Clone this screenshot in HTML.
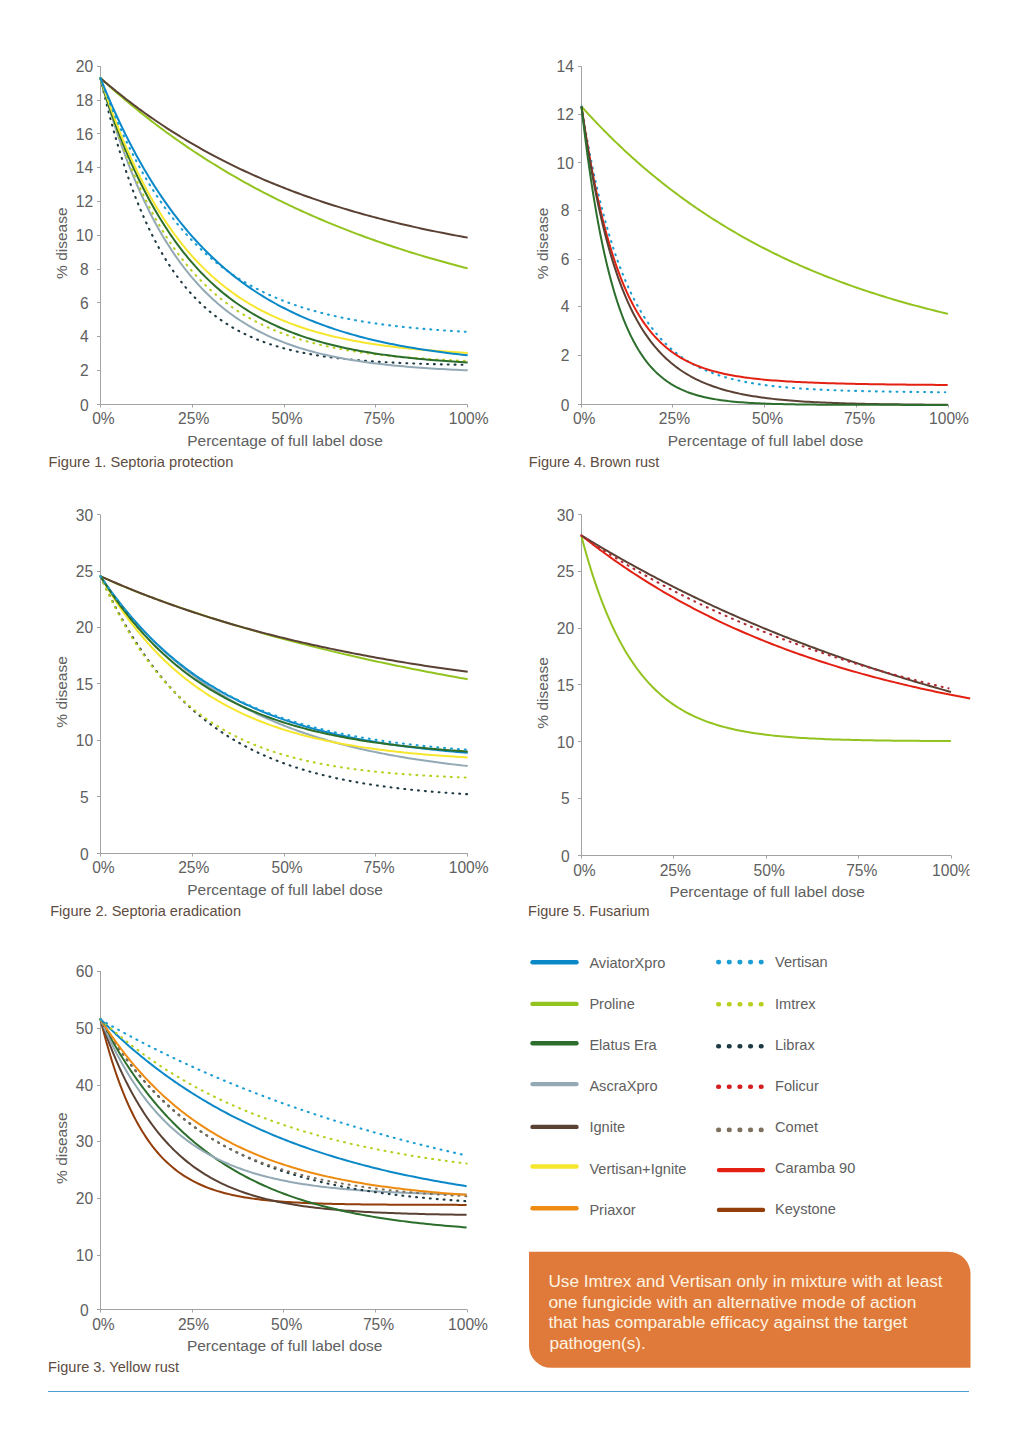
<!DOCTYPE html>
<html><head><meta charset="utf-8"><style>
html,body{margin:0;padding:0;background:#fff;}
body{width:1019px;height:1440px;overflow:hidden;}
svg{display:block;}
text{font-family:"Liberation Sans", sans-serif;}
.tk{font-size:15.6px;fill:#606060;}
.at{font-size:15.5px;fill:#606060;}
.cap{font-size:14.8px;fill:#5e4c3f;}
.lg{font-size:14.6px;fill:#606060;}
.bx{font-size:17.2px;fill:#fff4e2;}
</style></head><body>
<svg width="1019" height="1440" viewBox="0 0 1019 1440">
<rect width="1019" height="1440" fill="#fff"/>
<path d="M100.50 66.20V404.50H467.70" fill="none" stroke="#a2a2a2" stroke-width="1"/>
<path d="M97.00 404.50H100.50" stroke="#a2a2a2" stroke-width="1"/>
<text x="84.40" y="411.00" text-anchor="middle" class="tk">0</text>
<path d="M97.00 370.50H100.50" stroke="#a2a2a2" stroke-width="1"/>
<text x="84.40" y="376.20" text-anchor="middle" class="tk">2</text>
<path d="M97.00 336.50H100.50" stroke="#a2a2a2" stroke-width="1"/>
<text x="84.40" y="342.40" text-anchor="middle" class="tk">4</text>
<path d="M97.00 302.50H100.50" stroke="#a2a2a2" stroke-width="1"/>
<text x="84.40" y="308.60" text-anchor="middle" class="tk">6</text>
<path d="M97.00 269.50H100.50" stroke="#a2a2a2" stroke-width="1"/>
<text x="84.40" y="274.80" text-anchor="middle" class="tk">8</text>
<path d="M97.00 235.50H100.50" stroke="#a2a2a2" stroke-width="1"/>
<text x="84.40" y="241.00" text-anchor="middle" class="tk">10</text>
<path d="M97.00 201.50H100.50" stroke="#a2a2a2" stroke-width="1"/>
<text x="84.40" y="207.20" text-anchor="middle" class="tk">12</text>
<path d="M97.00 167.50H100.50" stroke="#a2a2a2" stroke-width="1"/>
<text x="84.40" y="173.40" text-anchor="middle" class="tk">14</text>
<path d="M97.00 133.50H100.50" stroke="#a2a2a2" stroke-width="1"/>
<text x="84.40" y="139.60" text-anchor="middle" class="tk">16</text>
<path d="M97.00 100.50H100.50" stroke="#a2a2a2" stroke-width="1"/>
<text x="84.40" y="105.80" text-anchor="middle" class="tk">18</text>
<path d="M97.00 66.50H100.50" stroke="#a2a2a2" stroke-width="1"/>
<text x="84.40" y="72.00" text-anchor="middle" class="tk">20</text>
<path d="M100.50 404.50V407.50" stroke="#a2a2a2" stroke-width="1"/>
<text x="103.40" y="424.00" text-anchor="middle" class="tk">0%</text>
<path d="M192.50 404.50V407.50" stroke="#a2a2a2" stroke-width="1"/>
<text x="193.72" y="424.00" text-anchor="middle" class="tk">25%</text>
<path d="M284.50 404.50V407.50" stroke="#a2a2a2" stroke-width="1"/>
<text x="287.05" y="424.00" text-anchor="middle" class="tk">50%</text>
<path d="M375.50 404.50V407.50" stroke="#a2a2a2" stroke-width="1"/>
<text x="379.07" y="424.00" text-anchor="middle" class="tk">75%</text>
<path d="M467.50 404.50V407.50" stroke="#a2a2a2" stroke-width="1"/>
<text x="468.70" y="424.00" text-anchor="middle" class="tk">100%</text>
<text x="285.05" y="445.50" text-anchor="middle" class="at">Percentage of full label dose</text>
<text transform="translate(67.20 243.20) rotate(-90)" text-anchor="middle" class="at">% disease</text>
<text x="48.60" y="466.60" class="cap" style="font-size:14.65px">Figure 1. Septoria protection</text>
<path d="M100.40 78.00 L100.51 78.10 L100.73 78.31 L101.04 78.59 L101.41 78.93 L101.85 79.33 L102.34 79.78 L102.88 80.27 L103.47 80.81 L104.11 81.39 L104.79 82.01 L105.52 82.67 L106.28 83.36 L107.08 84.08 L107.93 84.83 L108.80 85.62 L109.72 86.44 L110.67 87.28 L111.65 88.15 L112.67 89.05 L113.72 89.97 L114.80 90.92 L115.91 91.89 L117.06 92.89 L118.23 93.90 L119.43 94.94 L120.66 96.00 L121.93 97.08 L123.22 98.18 L124.53 99.29 L125.88 100.43 L127.25 101.58 L128.65 102.75 L130.08 103.94 L131.53 105.14 L133.01 106.35 L134.51 107.59 L136.04 108.83 L137.59 110.09 L139.17 111.36 L140.77 112.64 L142.40 113.94 L144.05 115.25 L145.72 116.57 L147.42 117.90 L149.14 119.24 L150.89 120.59 L152.66 121.95 L154.45 123.31 L156.26 124.69 L158.09 126.08 L159.95 127.47 L161.83 128.87 L163.73 130.27 L165.66 131.69 L167.60 133.11 L169.56 134.53 L171.55 135.96 L173.56 137.40 L175.59 138.84 L177.64 140.28 L179.71 141.73 L181.80 143.19 L183.91 144.64 L186.04 146.10 L188.19 147.56 L190.36 149.03 L192.55 150.49 L194.76 151.96 L196.99 153.43 L199.24 154.90 L201.51 156.38 L203.80 157.85 L206.11 159.32 L208.43 160.80 L210.78 162.27 L213.14 163.74 L215.53 165.22 L217.93 166.69 L220.35 168.16 L222.79 169.63 L225.24 171.09 L227.72 172.56 L230.21 174.03 L232.72 175.49 L235.25 176.95 L237.80 178.40 L240.36 179.86 L242.95 181.31 L245.55 182.76 L248.17 184.20 L250.80 185.64 L253.45 187.08 L256.12 188.51 L258.81 189.94 L261.52 191.36 L264.24 192.78 L266.98 194.20 L269.74 195.61 L272.51 197.01 L275.30 198.42 L278.11 199.81 L280.93 201.20 L283.77 202.58 L286.63 203.96 L289.50 205.33 L292.39 206.70 L295.29 208.06 L298.22 209.42 L301.16 210.76 L304.11 212.11 L307.08 213.44 L310.07 214.77 L313.07 216.09 L316.09 217.41 L319.13 218.71 L322.18 220.01 L325.24 221.31 L328.33 222.59 L331.43 223.87 L334.54 225.14 L337.67 226.41 L340.81 227.66 L343.98 228.91 L347.15 230.15 L350.34 231.39 L353.55 232.61 L356.77 233.83 L360.01 235.04 L363.26 236.24 L366.53 237.44 L369.81 238.62 L373.11 239.80 L376.42 240.97 L379.75 242.13 L383.10 243.28 L386.45 244.43 L389.83 245.56 L393.21 246.69 L396.62 247.81 L400.03 248.92 L403.47 250.02 L406.91 251.11 L410.37 252.20 L413.85 253.28 L417.34 254.34 L420.84 255.40 L424.36 256.45 L427.89 257.50 L431.44 258.53 L435.00 259.55 L438.58 260.57 L442.17 261.58 L445.78 262.58 L449.39 263.57 L453.03 264.55 L456.67 265.52 L460.34 266.49 L464.01 267.44 L467.70 268.39" fill="none" stroke="#92c31e" stroke-width="2.0" stroke-linejoin="round"/>
<path d="M100.40 78.00 L100.51 78.10 L100.73 78.29 L101.04 78.55 L101.41 78.88 L101.85 79.25 L102.34 79.67 L102.88 80.14 L103.47 80.65 L104.11 81.19 L104.79 81.77 L105.52 82.39 L106.28 83.03 L107.08 83.71 L107.93 84.42 L108.80 85.16 L109.72 85.92 L110.67 86.71 L111.65 87.52 L112.67 88.36 L113.72 89.22 L114.80 90.10 L115.91 91.01 L117.06 91.93 L118.23 92.88 L119.43 93.84 L120.66 94.82 L121.93 95.82 L123.22 96.84 L124.53 97.87 L125.88 98.92 L127.25 99.98 L128.65 101.06 L130.08 102.15 L131.53 103.25 L133.01 104.37 L134.51 105.49 L136.04 106.63 L137.59 107.78 L139.17 108.95 L140.77 110.12 L142.40 111.30 L144.05 112.49 L145.72 113.69 L147.42 114.89 L149.14 116.10 L150.89 117.33 L152.66 118.55 L154.45 119.79 L156.26 121.03 L158.09 122.27 L159.95 123.52 L161.83 124.78 L163.73 126.03 L165.66 127.30 L167.60 128.56 L169.56 129.83 L171.55 131.10 L173.56 132.38 L175.59 133.65 L177.64 134.93 L179.71 136.21 L181.80 137.49 L183.91 138.77 L186.04 140.06 L188.19 141.34 L190.36 142.62 L192.55 143.90 L194.76 145.18 L196.99 146.46 L199.24 147.74 L201.51 149.02 L203.80 150.29 L206.11 151.57 L208.43 152.84 L210.78 154.11 L213.14 155.37 L215.53 156.64 L217.93 157.90 L220.35 159.15 L222.79 160.40 L225.24 161.65 L227.72 162.90 L230.21 164.14 L232.72 165.37 L235.25 166.60 L237.80 167.83 L240.36 169.05 L242.95 170.27 L245.55 171.48 L248.17 172.69 L250.80 173.89 L253.45 175.08 L256.12 176.27 L258.81 177.45 L261.52 178.63 L264.24 179.80 L266.98 180.96 L269.74 182.12 L272.51 183.27 L275.30 184.41 L278.11 185.54 L280.93 186.67 L283.77 187.80 L286.63 188.91 L289.50 190.02 L292.39 191.12 L295.29 192.21 L298.22 193.29 L301.16 194.37 L304.11 195.44 L307.08 196.50 L310.07 197.56 L313.07 198.60 L316.09 199.64 L319.13 200.67 L322.18 201.69 L325.24 202.70 L328.33 203.71 L331.43 204.71 L334.54 205.69 L337.67 206.67 L340.81 207.65 L343.98 208.61 L347.15 209.56 L350.34 210.51 L353.55 211.45 L356.77 212.38 L360.01 213.30 L363.26 214.21 L366.53 215.11 L369.81 216.01 L373.11 216.90 L376.42 217.77 L379.75 218.64 L383.10 219.50 L386.45 220.36 L389.83 221.20 L393.21 222.03 L396.62 222.86 L400.03 223.68 L403.47 224.49 L406.91 225.29 L410.37 226.08 L413.85 226.87 L417.34 227.64 L420.84 228.41 L424.36 229.17 L427.89 229.92 L431.44 230.66 L435.00 231.39 L438.58 232.12 L442.17 232.83 L445.78 233.54 L449.39 234.24 L453.03 234.93 L456.67 235.62 L460.34 236.29 L464.01 236.96 L467.70 237.62" fill="none" stroke="#5a4133" stroke-width="2.0" stroke-linejoin="round"/>
<path d="M100.40 78.00 L100.51 78.48 L100.73 79.46 L101.04 80.79 L101.41 82.41 L101.85 84.29 L102.34 86.38 L102.88 88.69 L103.47 91.17 L104.11 93.83 L104.79 96.64 L105.52 99.59 L106.28 102.67 L107.08 105.88 L107.93 109.19 L108.80 112.60 L109.72 116.10 L110.67 119.69 L111.65 123.35 L112.67 127.08 L113.72 130.87 L114.80 134.71 L115.91 138.59 L117.06 142.52 L118.23 146.48 L119.43 150.46 L120.66 154.47 L121.93 158.49 L123.22 162.53 L124.53 166.57 L125.88 170.61 L127.25 174.65 L128.65 178.69 L130.08 182.71 L131.53 186.72 L133.01 190.71 L134.51 194.67 L136.04 198.62 L137.59 202.53 L139.17 206.41 L140.77 210.26 L142.40 214.07 L144.05 217.84 L145.72 221.57 L147.42 225.26 L149.14 228.90 L150.89 232.49 L152.66 236.04 L154.45 239.53 L156.26 242.97 L158.09 246.36 L159.95 249.70 L161.83 252.98 L163.73 256.20 L165.66 259.37 L167.60 262.48 L169.56 265.53 L171.55 268.52 L173.56 271.46 L175.59 274.33 L177.64 277.15 L179.71 279.90 L181.80 282.60 L183.91 285.24 L186.04 287.81 L188.19 290.33 L190.36 292.79 L192.55 295.19 L194.76 297.53 L196.99 299.82 L199.24 302.04 L201.51 304.21 L203.80 306.33 L206.11 308.39 L208.43 310.39 L210.78 312.34 L213.14 314.24 L215.53 316.08 L217.93 317.87 L220.35 319.61 L222.79 321.30 L225.24 322.94 L227.72 324.53 L230.21 326.07 L232.72 327.57 L235.25 329.02 L237.80 330.42 L240.36 331.78 L242.95 333.10 L245.55 334.38 L248.17 335.61 L250.80 336.80 L253.45 337.96 L256.12 339.07 L258.81 340.15 L261.52 341.19 L264.24 342.20 L266.98 343.17 L269.74 344.10 L272.51 345.01 L275.30 345.88 L278.11 346.72 L280.93 347.53 L283.77 348.30 L286.63 349.06 L289.50 349.78 L292.39 350.47 L295.29 351.14 L298.22 351.79 L301.16 352.41 L304.11 353.00 L307.08 353.57 L310.07 354.12 L313.07 354.65 L316.09 355.16 L319.13 355.65 L322.18 356.11 L325.24 356.56 L328.33 356.99 L331.43 357.40 L334.54 357.80 L337.67 358.18 L340.81 358.54 L343.98 358.89 L347.15 359.22 L350.34 359.54 L353.55 359.85 L356.77 360.14 L360.01 360.42 L363.26 360.68 L366.53 360.94 L369.81 361.18 L373.11 361.41 L376.42 361.64 L379.75 361.85 L383.10 362.05 L386.45 362.25 L389.83 362.43 L393.21 362.61 L396.62 362.78 L400.03 362.94 L403.47 363.09 L406.91 363.23 L410.37 363.37 L413.85 363.51 L417.34 363.63 L420.84 363.75 L424.36 363.86 L427.89 363.97 L431.44 364.08 L435.00 364.17 L438.58 364.27 L442.17 364.36 L445.78 364.44 L449.39 364.52 L453.03 364.60 L456.67 364.67 L460.34 364.74 L464.01 364.80 L467.70 364.87" fill="none" stroke="#1e3a42" stroke-width="2.1" stroke-linecap="round" stroke-dasharray="0.9 6.0"/>
<path d="M100.40 78.00 L100.51 78.40 L100.73 79.21 L101.04 80.31 L101.41 81.66 L101.85 83.21 L102.34 84.95 L102.88 86.87 L103.47 88.94 L104.11 91.16 L104.79 93.51 L105.52 95.99 L106.28 98.58 L107.08 101.28 L107.93 104.08 L108.80 106.97 L109.72 109.94 L110.67 113.00 L111.65 116.12 L112.67 119.31 L113.72 122.57 L114.80 125.88 L115.91 129.24 L117.06 132.64 L118.23 136.09 L119.43 139.57 L120.66 143.08 L121.93 146.62 L123.22 150.18 L124.53 153.77 L125.88 157.37 L127.25 160.98 L128.65 164.60 L130.08 168.22 L131.53 171.85 L133.01 175.47 L134.51 179.09 L136.04 182.71 L137.59 186.31 L139.17 189.90 L140.77 193.48 L142.40 197.04 L144.05 200.58 L145.72 204.10 L147.42 207.59 L149.14 211.06 L150.89 214.51 L152.66 217.92 L154.45 221.30 L156.26 224.65 L158.09 227.97 L159.95 231.25 L161.83 234.49 L163.73 237.70 L165.66 240.87 L167.60 244.00 L169.56 247.08 L171.55 250.13 L173.56 253.13 L175.59 256.09 L177.64 259.01 L179.71 261.88 L181.80 264.71 L183.91 267.50 L186.04 270.23 L188.19 272.92 L190.36 275.57 L192.55 278.17 L194.76 280.72 L196.99 283.23 L199.24 285.69 L201.51 288.10 L203.80 290.47 L206.11 292.79 L208.43 295.06 L210.78 297.28 L213.14 299.47 L215.53 301.60 L217.93 303.69 L220.35 305.73 L222.79 307.73 L225.24 309.69 L227.72 311.60 L230.21 313.46 L232.72 315.29 L235.25 317.07 L237.80 318.81 L240.36 320.50 L242.95 322.16 L245.55 323.77 L248.17 325.35 L250.80 326.88 L253.45 328.37 L256.12 329.83 L258.81 331.25 L261.52 332.63 L264.24 333.97 L266.98 335.28 L269.74 336.55 L272.51 337.79 L275.30 338.99 L278.11 340.16 L280.93 341.30 L283.77 342.40 L286.63 343.48 L289.50 344.52 L292.39 345.53 L295.29 346.51 L298.22 347.46 L301.16 348.39 L304.11 349.28 L307.08 350.15 L310.07 350.99 L313.07 351.81 L316.09 352.60 L319.13 353.36 L322.18 354.11 L325.24 354.82 L328.33 355.52 L331.43 356.19 L334.54 356.84 L337.67 357.47 L340.81 358.08 L343.98 358.67 L347.15 359.23 L350.34 359.78 L353.55 360.31 L356.77 360.83 L360.01 361.32 L363.26 361.80 L366.53 362.26 L369.81 362.71 L373.11 363.14 L376.42 363.55 L379.75 363.95 L383.10 364.33 L386.45 364.71 L389.83 365.06 L393.21 365.41 L396.62 365.74 L400.03 366.06 L403.47 366.37 L406.91 366.67 L410.37 366.95 L413.85 367.23 L417.34 367.49 L420.84 367.75 L424.36 367.99 L427.89 368.23 L431.44 368.45 L435.00 368.67 L438.58 368.88 L442.17 369.08 L445.78 369.27 L449.39 369.46 L453.03 369.63 L456.67 369.80 L460.34 369.97 L464.01 370.13 L467.70 370.28" fill="none" stroke="#93a9b5" stroke-width="2.0" stroke-linejoin="round"/>
<path d="M100.40 78.00 L100.51 78.39 L100.73 79.17 L101.04 80.24 L101.41 81.54 L101.85 83.04 L102.34 84.73 L102.88 86.58 L103.47 88.58 L104.11 90.73 L104.79 93.01 L105.52 95.40 L106.28 97.91 L107.08 100.52 L107.93 103.22 L108.80 106.02 L109.72 108.90 L110.67 111.85 L111.65 114.87 L112.67 117.96 L113.72 121.11 L114.80 124.31 L115.91 127.56 L117.06 130.85 L118.23 134.18 L119.43 137.55 L120.66 140.95 L121.93 144.38 L123.22 147.82 L124.53 151.29 L125.88 154.77 L127.25 158.27 L128.65 161.77 L130.08 165.27 L131.53 168.78 L133.01 172.29 L134.51 175.79 L136.04 179.29 L137.59 182.78 L139.17 186.25 L140.77 189.71 L142.40 193.16 L144.05 196.59 L145.72 199.99 L147.42 203.37 L149.14 206.73 L150.89 210.06 L152.66 213.36 L154.45 216.64 L156.26 219.88 L158.09 223.09 L159.95 226.26 L161.83 229.40 L163.73 232.51 L165.66 235.57 L167.60 238.60 L169.56 241.59 L171.55 244.54 L173.56 247.45 L175.59 250.31 L177.64 253.14 L179.71 255.92 L181.80 258.66 L183.91 261.35 L186.04 264.00 L188.19 266.61 L190.36 269.17 L192.55 271.68 L194.76 274.15 L196.99 276.58 L199.24 278.96 L201.51 281.30 L203.80 283.59 L206.11 285.83 L208.43 288.04 L210.78 290.19 L213.14 292.30 L215.53 294.37 L217.93 296.39 L220.35 298.37 L222.79 300.31 L225.24 302.20 L227.72 304.05 L230.21 305.86 L232.72 307.63 L235.25 309.35 L237.80 311.04 L240.36 312.68 L242.95 314.28 L245.55 315.85 L248.17 317.37 L250.80 318.86 L253.45 320.30 L256.12 321.72 L258.81 323.09 L261.52 324.43 L264.24 325.73 L266.98 327.00 L269.74 328.23 L272.51 329.43 L275.30 330.60 L278.11 331.73 L280.93 332.83 L283.77 333.90 L286.63 334.94 L289.50 335.95 L292.39 336.93 L295.29 337.88 L298.22 338.80 L301.16 339.70 L304.11 340.57 L307.08 341.41 L310.07 342.22 L313.07 343.02 L316.09 343.78 L319.13 344.52 L322.18 345.24 L325.24 345.94 L328.33 346.61 L331.43 347.26 L334.54 347.89 L337.67 348.50 L340.81 349.09 L343.98 349.66 L347.15 350.22 L350.34 350.75 L353.55 351.26 L356.77 351.76 L360.01 352.24 L363.26 352.70 L366.53 353.15 L369.81 353.58 L373.11 354.00 L376.42 354.40 L379.75 354.79 L383.10 355.16 L386.45 355.52 L389.83 355.87 L393.21 356.21 L396.62 356.53 L400.03 356.84 L403.47 357.14 L406.91 357.43 L410.37 357.70 L413.85 357.97 L417.34 358.23 L420.84 358.47 L424.36 358.71 L427.89 358.94 L431.44 359.16 L435.00 359.37 L438.58 359.57 L442.17 359.77 L445.78 359.95 L449.39 360.13 L453.03 360.31 L456.67 360.47 L460.34 360.63 L464.01 360.78 L467.70 360.93" fill="none" stroke="#b9cf1f" stroke-width="2.1" stroke-linecap="round" stroke-dasharray="0.9 6.0"/>
<path d="M100.40 78.00 L100.51 78.47 L100.73 79.41 L101.04 80.65 L101.41 82.12 L101.85 83.76 L102.34 85.53 L102.88 87.43 L103.47 89.42 L104.11 91.51 L104.79 93.68 L105.52 95.93 L106.28 98.27 L107.08 100.68 L107.93 103.17 L108.80 105.73 L109.72 108.36 L110.67 111.06 L111.65 113.82 L112.67 116.64 L113.72 119.52 L114.80 122.45 L115.91 125.43 L117.06 128.45 L118.23 131.51 L119.43 134.61 L120.66 137.74 L121.93 140.90 L123.22 144.09 L124.53 147.30 L125.88 150.53 L127.25 153.78 L128.65 157.04 L130.08 160.31 L131.53 163.58 L133.01 166.87 L134.51 170.15 L136.04 173.44 L137.59 176.72 L139.17 180.00 L140.77 183.27 L142.40 186.53 L144.05 189.79 L145.72 193.02 L147.42 196.25 L149.14 199.46 L150.89 202.65 L152.66 205.82 L154.45 208.96 L156.26 212.09 L158.09 215.19 L159.95 218.27 L161.83 221.31 L163.73 224.34 L165.66 227.33 L167.60 230.29 L169.56 233.22 L171.55 236.12 L173.56 238.98 L175.59 241.81 L177.64 244.61 L179.71 247.37 L181.80 250.10 L183.91 252.79 L186.04 255.44 L188.19 258.06 L190.36 260.64 L192.55 263.18 L194.76 265.68 L196.99 268.15 L199.24 270.57 L201.51 272.96 L203.80 275.30 L206.11 277.61 L208.43 279.88 L210.78 282.11 L213.14 284.29 L215.53 286.44 L217.93 288.55 L220.35 290.62 L222.79 292.66 L225.24 294.65 L227.72 296.60 L230.21 298.52 L232.72 300.39 L235.25 302.23 L237.80 304.03 L240.36 305.80 L242.95 307.52 L245.55 309.21 L248.17 310.86 L250.80 312.48 L253.45 314.06 L256.12 315.60 L258.81 317.11 L261.52 318.59 L264.24 320.03 L266.98 321.44 L269.74 322.81 L272.51 324.15 L275.30 325.46 L278.11 326.73 L280.93 327.98 L283.77 329.19 L286.63 330.38 L289.50 331.53 L292.39 332.65 L295.29 333.75 L298.22 334.81 L301.16 335.85 L304.11 336.86 L307.08 337.85 L310.07 338.80 L313.07 339.73 L316.09 340.64 L319.13 341.52 L322.18 342.38 L325.24 343.21 L328.33 344.02 L331.43 344.80 L334.54 345.57 L337.67 346.31 L340.81 347.03 L343.98 347.72 L347.15 348.40 L350.34 349.06 L353.55 349.70 L356.77 350.32 L360.01 350.92 L363.26 351.50 L366.53 352.06 L369.81 352.61 L373.11 353.14 L376.42 353.65 L379.75 354.15 L383.10 354.63 L386.45 355.10 L389.83 355.55 L393.21 355.98 L396.62 356.41 L400.03 356.81 L403.47 357.21 L406.91 357.59 L410.37 357.96 L413.85 358.32 L417.34 358.66 L420.84 359.00 L424.36 359.32 L427.89 359.63 L431.44 359.93 L435.00 360.22 L438.58 360.50 L442.17 360.77 L445.78 361.03 L449.39 361.29 L453.03 361.53 L456.67 361.76 L460.34 361.99 L464.01 362.21 L467.70 362.42" fill="none" stroke="#2c6e2c" stroke-width="2.0" stroke-linejoin="round"/>
<path d="M100.40 78.00 L100.51 78.34 L100.73 79.03 L101.04 79.97 L101.41 81.11 L101.85 82.44 L102.34 83.92 L102.88 85.56 L103.47 87.33 L104.11 89.23 L104.79 91.24 L105.52 93.36 L106.28 95.58 L107.08 97.89 L107.93 100.29 L108.80 102.78 L109.72 105.34 L110.67 107.97 L111.65 110.66 L112.67 113.42 L113.72 116.23 L114.80 119.09 L115.91 122.01 L117.06 124.96 L118.23 127.96 L119.43 130.99 L120.66 134.05 L121.93 137.14 L123.22 140.26 L124.53 143.40 L125.88 146.56 L127.25 149.73 L128.65 152.92 L130.08 156.12 L131.53 159.32 L133.01 162.53 L134.51 165.74 L136.04 168.95 L137.59 172.16 L139.17 175.37 L140.77 178.56 L142.40 181.75 L144.05 184.93 L145.72 188.09 L147.42 191.24 L149.14 194.38 L150.89 197.49 L152.66 200.59 L154.45 203.66 L156.26 206.71 L158.09 209.74 L159.95 212.74 L161.83 215.72 L163.73 218.67 L165.66 221.59 L167.60 224.48 L169.56 227.34 L171.55 230.17 L173.56 232.96 L175.59 235.73 L177.64 238.45 L179.71 241.15 L181.80 243.81 L183.91 246.43 L186.04 249.02 L188.19 251.57 L190.36 254.08 L192.55 256.56 L194.76 259.00 L196.99 261.40 L199.24 263.76 L201.51 266.09 L203.80 268.37 L206.11 270.62 L208.43 272.83 L210.78 275.00 L213.14 277.13 L215.53 279.23 L217.93 281.28 L220.35 283.30 L222.79 285.27 L225.24 287.21 L227.72 289.12 L230.21 290.98 L232.72 292.80 L235.25 294.59 L237.80 296.35 L240.36 298.06 L242.95 299.74 L245.55 301.38 L248.17 302.99 L250.80 304.56 L253.45 306.09 L256.12 307.60 L258.81 309.06 L261.52 310.50 L264.24 311.90 L266.98 313.26 L269.74 314.60 L272.51 315.90 L275.30 317.17 L278.11 318.41 L280.93 319.62 L283.77 320.79 L286.63 321.94 L289.50 323.06 L292.39 324.15 L295.29 325.21 L298.22 326.25 L301.16 327.25 L304.11 328.23 L307.08 329.19 L310.07 330.12 L313.07 331.02 L316.09 331.90 L319.13 332.75 L322.18 333.58 L325.24 334.38 L328.33 335.17 L331.43 335.93 L334.54 336.67 L337.67 337.39 L340.81 338.08 L343.98 338.76 L347.15 339.41 L350.34 340.05 L353.55 340.67 L356.77 341.27 L360.01 341.85 L363.26 342.41 L366.53 342.95 L369.81 343.48 L373.11 344.00 L376.42 344.49 L379.75 344.97 L383.10 345.44 L386.45 345.89 L389.83 346.32 L393.21 346.74 L396.62 347.15 L400.03 347.55 L403.47 347.93 L406.91 348.30 L410.37 348.65 L413.85 349.00 L417.34 349.33 L420.84 349.65 L424.36 349.96 L427.89 350.26 L431.44 350.55 L435.00 350.83 L438.58 351.10 L442.17 351.36 L445.78 351.61 L449.39 351.86 L453.03 352.09 L456.67 352.32 L460.34 352.53 L464.01 352.74 L467.70 352.94" fill="none" stroke="#f7e62e" stroke-width="2.0" stroke-linejoin="round"/>
<path d="M100.40 78.00 L100.51 78.31 L100.73 78.93 L101.04 79.78 L101.41 80.81 L101.85 82.01 L102.34 83.36 L102.88 84.83 L103.47 86.43 L104.11 88.15 L104.79 89.97 L105.52 91.89 L106.28 93.90 L107.08 95.99 L107.93 98.17 L108.80 100.41 L109.72 102.73 L110.67 105.11 L111.65 107.56 L112.67 110.06 L113.72 112.61 L114.80 115.20 L115.91 117.85 L117.06 120.53 L118.23 123.25 L119.43 126.00 L120.66 128.78 L121.93 131.59 L123.22 134.42 L124.53 137.28 L125.88 140.15 L127.25 143.04 L128.65 145.94 L130.08 148.85 L131.53 151.76 L133.01 154.69 L134.51 157.62 L136.04 160.54 L137.59 163.47 L139.17 166.39 L140.77 169.31 L142.40 172.22 L144.05 175.13 L145.72 178.02 L147.42 180.90 L149.14 183.76 L150.89 186.62 L152.66 189.45 L154.45 192.27 L156.26 195.06 L158.09 197.84 L159.95 200.59 L161.83 203.32 L163.73 206.03 L165.66 208.71 L167.60 211.37 L169.56 214.00 L171.55 216.60 L173.56 219.17 L175.59 221.72 L177.64 224.23 L179.71 226.71 L181.80 229.17 L183.91 231.59 L186.04 233.98 L188.19 236.33 L190.36 238.66 L192.55 240.95 L194.76 243.20 L196.99 245.43 L199.24 247.62 L201.51 249.77 L203.80 251.89 L206.11 253.98 L208.43 256.03 L210.78 258.04 L213.14 260.03 L215.53 261.97 L217.93 263.88 L220.35 265.76 L222.79 267.60 L225.24 269.41 L227.72 271.19 L230.21 272.93 L232.72 274.63 L235.25 276.30 L237.80 277.94 L240.36 279.55 L242.95 281.12 L245.55 282.66 L248.17 284.17 L250.80 285.64 L253.45 287.08 L256.12 288.49 L258.81 289.87 L261.52 291.22 L264.24 292.54 L266.98 293.83 L269.74 295.08 L272.51 296.31 L275.30 297.51 L278.11 298.68 L280.93 299.82 L283.77 300.94 L286.63 302.03 L289.50 303.09 L292.39 304.12 L295.29 305.13 L298.22 306.11 L301.16 307.07 L304.11 308.00 L307.08 308.91 L310.07 309.79 L313.07 310.65 L316.09 311.49 L319.13 312.30 L322.18 313.10 L325.24 313.87 L328.33 314.62 L331.43 315.35 L334.54 316.05 L337.67 316.74 L340.81 317.41 L343.98 318.06 L347.15 318.69 L350.34 319.30 L353.55 319.90 L356.77 320.47 L360.01 321.03 L363.26 321.58 L366.53 322.10 L369.81 322.62 L373.11 323.11 L376.42 323.59 L379.75 324.06 L383.10 324.51 L386.45 324.94 L389.83 325.37 L393.21 325.78 L396.62 326.17 L400.03 326.56 L403.47 326.93 L406.91 327.29 L410.37 327.64 L413.85 327.98 L417.34 328.30 L420.84 328.62 L424.36 328.92 L427.89 329.22 L431.44 329.50 L435.00 329.78 L438.58 330.04 L442.17 330.30 L445.78 330.55 L449.39 330.78 L453.03 331.02 L456.67 331.24 L460.34 331.45 L464.01 331.66 L467.70 331.86" fill="none" stroke="#1a9ed3" stroke-width="2.1" stroke-linecap="round" stroke-dasharray="0.9 6.0"/>
<path d="M100.40 78.00 L100.51 78.28 L100.73 78.83 L101.04 79.59 L101.41 80.52 L101.85 81.60 L102.34 82.81 L102.88 84.14 L103.47 85.58 L104.11 87.13 L104.79 88.77 L105.52 90.51 L106.28 92.33 L107.08 94.23 L107.93 96.21 L108.80 98.26 L109.72 100.38 L110.67 102.56 L111.65 104.80 L112.67 107.09 L113.72 109.44 L114.80 111.84 L115.91 114.28 L117.06 116.77 L118.23 119.29 L119.43 121.86 L120.66 124.46 L121.93 127.09 L123.22 129.75 L124.53 132.44 L125.88 135.16 L127.25 137.89 L128.65 140.65 L130.08 143.42 L131.53 146.21 L133.01 149.02 L134.51 151.83 L136.04 154.66 L137.59 157.50 L139.17 160.34 L140.77 163.18 L142.40 166.03 L144.05 168.88 L145.72 171.73 L147.42 174.58 L149.14 177.43 L150.89 180.27 L152.66 183.10 L154.45 185.93 L156.26 188.75 L158.09 191.56 L159.95 194.36 L161.83 197.14 L163.73 199.91 L165.66 202.67 L167.60 205.41 L169.56 208.14 L171.55 210.85 L173.56 213.54 L175.59 216.21 L177.64 218.87 L179.71 221.50 L181.80 224.11 L183.91 226.70 L186.04 229.26 L188.19 231.80 L190.36 234.32 L192.55 236.82 L194.76 239.29 L196.99 241.73 L199.24 244.15 L201.51 246.54 L203.80 248.90 L206.11 251.24 L208.43 253.55 L210.78 255.84 L213.14 258.09 L215.53 260.32 L217.93 262.52 L220.35 264.69 L222.79 266.83 L225.24 268.94 L227.72 271.02 L230.21 273.07 L232.72 275.10 L235.25 277.09 L237.80 279.06 L240.36 280.99 L242.95 282.90 L245.55 284.78 L248.17 286.62 L250.80 288.44 L253.45 290.23 L256.12 291.99 L258.81 293.72 L261.52 295.42 L264.24 297.10 L266.98 298.74 L269.74 300.36 L272.51 301.94 L275.30 303.50 L278.11 305.03 L280.93 306.54 L283.77 308.01 L286.63 309.46 L289.50 310.88 L292.39 312.27 L295.29 313.64 L298.22 314.98 L301.16 316.29 L304.11 317.58 L307.08 318.85 L310.07 320.08 L313.07 321.29 L316.09 322.48 L319.13 323.64 L322.18 324.78 L325.24 325.90 L328.33 326.99 L331.43 328.06 L334.54 329.10 L337.67 330.12 L340.81 331.12 L343.98 332.10 L347.15 333.06 L350.34 333.99 L353.55 334.90 L356.77 335.80 L360.01 336.67 L363.26 337.52 L366.53 338.35 L369.81 339.17 L373.11 339.96 L376.42 340.73 L379.75 341.49 L383.10 342.23 L386.45 342.95 L389.83 343.65 L393.21 344.34 L396.62 345.01 L400.03 345.66 L403.47 346.29 L406.91 346.91 L410.37 347.52 L413.85 348.11 L417.34 348.68 L420.84 349.24 L424.36 349.78 L427.89 350.31 L431.44 350.83 L435.00 351.33 L438.58 351.82 L442.17 352.30 L445.78 352.76 L449.39 353.21 L453.03 353.65 L456.67 354.08 L460.34 354.50 L464.01 354.90 L467.70 355.29" fill="none" stroke="#0a88c8" stroke-width="2.0" stroke-linejoin="round"/>
<path d="M581.50 66.25V404.50H948.00" fill="none" stroke="#a2a2a2" stroke-width="1"/>
<path d="M578.00 404.50H581.50" stroke="#a2a2a2" stroke-width="1"/>
<text x="565.20" y="411.30" text-anchor="middle" class="tk">0</text>
<path d="M578.00 355.50H581.50" stroke="#a2a2a2" stroke-width="1"/>
<text x="565.20" y="361.20" text-anchor="middle" class="tk">2</text>
<path d="M578.00 306.50H581.50" stroke="#a2a2a2" stroke-width="1"/>
<text x="565.20" y="311.80" text-anchor="middle" class="tk">4</text>
<path d="M578.00 259.50H581.50" stroke="#a2a2a2" stroke-width="1"/>
<text x="565.20" y="265.00" text-anchor="middle" class="tk">6</text>
<path d="M578.00 210.50H581.50" stroke="#a2a2a2" stroke-width="1"/>
<text x="565.20" y="216.40" text-anchor="middle" class="tk">8</text>
<path d="M578.00 162.50H581.50" stroke="#a2a2a2" stroke-width="1"/>
<text x="565.20" y="168.55" text-anchor="middle" class="tk">10</text>
<path d="M578.00 114.50H581.50" stroke="#a2a2a2" stroke-width="1"/>
<text x="565.20" y="120.30" text-anchor="middle" class="tk">12</text>
<path d="M578.00 66.50H581.50" stroke="#a2a2a2" stroke-width="1"/>
<text x="565.20" y="72.05" text-anchor="middle" class="tk">14</text>
<path d="M581.50 404.50V407.50" stroke="#a2a2a2" stroke-width="1"/>
<text x="584.20" y="424.30" text-anchor="middle" class="tk">0%</text>
<path d="M672.50 404.50V407.50" stroke="#a2a2a2" stroke-width="1"/>
<text x="674.40" y="424.30" text-anchor="middle" class="tk">25%</text>
<path d="M764.50 404.50V407.50" stroke="#a2a2a2" stroke-width="1"/>
<text x="767.60" y="424.30" text-anchor="middle" class="tk">50%</text>
<path d="M856.50 404.50V407.50" stroke="#a2a2a2" stroke-width="1"/>
<text x="859.50" y="424.30" text-anchor="middle" class="tk">75%</text>
<path d="M948.50 404.50V407.50" stroke="#a2a2a2" stroke-width="1"/>
<text x="949.00" y="424.30" text-anchor="middle" class="tk">100%</text>
<text x="765.60" y="445.80" text-anchor="middle" class="at">Percentage of full label dose</text>
<text transform="translate(548.00 243.38) rotate(-90)" text-anchor="middle" class="at">% disease</text>
<text x="528.80" y="466.70" class="cap" style="font-size:14.5px">Figure 4. Brown rust</text>
<path d="M581.50 106.50 L581.61 106.62 L581.83 106.87 L582.14 107.21 L582.51 107.63 L582.95 108.11 L583.44 108.65 L583.98 109.25 L584.57 109.90 L585.20 110.60 L585.88 111.35 L586.61 112.14 L587.37 112.97 L588.17 113.84 L589.01 114.75 L589.89 115.70 L590.80 116.68 L591.75 117.70 L592.73 118.74 L593.74 119.82 L594.79 120.93 L595.87 122.06 L596.98 123.23 L598.12 124.42 L599.29 125.63 L600.49 126.87 L601.72 128.14 L602.98 129.42 L604.27 130.73 L605.58 132.06 L606.92 133.41 L608.29 134.78 L609.69 136.17 L611.11 137.57 L612.56 138.99 L614.03 140.43 L615.53 141.89 L617.06 143.35 L618.61 144.84 L620.18 146.33 L621.78 147.84 L623.41 149.37 L625.05 150.90 L626.73 152.45 L628.42 154.00 L630.14 155.57 L631.88 157.14 L633.64 158.73 L635.43 160.32 L637.24 161.92 L639.07 163.53 L640.92 165.14 L642.80 166.76 L644.69 168.39 L646.61 170.02 L648.55 171.65 L650.51 173.29 L652.50 174.94 L654.50 176.58 L656.52 178.23 L658.57 179.89 L660.63 181.54 L662.72 183.20 L664.83 184.86 L666.95 186.51 L669.10 188.17 L671.27 189.83 L673.45 191.49 L675.66 193.15 L677.88 194.81 L680.13 196.46 L682.39 198.12 L684.67 199.77 L686.98 201.42 L689.30 203.07 L691.64 204.71 L694.00 206.35 L696.37 207.99 L698.77 209.62 L701.19 211.25 L703.62 212.88 L706.07 214.50 L708.54 216.11 L711.03 217.72 L713.53 219.33 L716.06 220.93 L718.60 222.52 L721.16 224.11 L723.74 225.69 L726.33 227.26 L728.94 228.83 L731.57 230.39 L734.22 231.94 L736.89 233.49 L739.57 235.03 L742.27 236.56 L744.98 238.08 L747.72 239.60 L750.47 241.10 L753.23 242.60 L756.02 244.09 L758.82 245.57 L761.64 247.04 L764.47 248.50 L767.32 249.96 L770.19 251.40 L773.07 252.83 L775.97 254.26 L778.89 255.68 L781.82 257.08 L784.77 258.48 L787.73 259.86 L790.71 261.24 L793.71 262.61 L796.72 263.96 L799.75 265.31 L802.79 266.64 L805.86 267.97 L808.93 269.28 L812.02 270.59 L815.13 271.88 L818.25 273.17 L821.39 274.44 L824.55 275.70 L827.71 276.95 L830.90 278.19 L834.10 279.42 L837.31 280.64 L840.54 281.85 L843.79 283.04 L847.05 284.23 L850.33 285.40 L853.62 286.57 L856.92 287.72 L860.24 288.86 L863.58 289.99 L866.93 291.11 L870.30 292.22 L873.68 293.32 L877.07 294.40 L880.48 295.48 L883.91 296.54 L887.34 297.60 L890.80 298.64 L894.27 299.67 L897.75 300.69 L901.24 301.71 L904.76 302.70 L908.28 303.69 L911.82 304.67 L915.38 305.64 L918.94 306.59 L922.53 307.54 L926.12 308.48 L929.73 309.40 L933.36 310.31 L937.00 311.22 L940.65 312.11 L944.32 312.99 L948.00 313.86" fill="none" stroke="#92c31e" stroke-width="2.0" stroke-linejoin="round"/>
<path d="M581.50 106.50 L581.61 107.18 L581.83 108.55 L582.13 110.41 L582.50 112.66 L582.94 115.27 L583.42 118.17 L583.96 121.35 L584.54 124.77 L585.18 128.40 L585.85 132.23 L586.57 136.24 L587.32 140.40 L588.12 144.70 L588.95 149.12 L589.82 153.65 L590.73 158.28 L591.67 162.98 L592.64 167.75 L593.65 172.57 L594.69 177.43 L595.76 182.33 L596.86 187.25 L597.99 192.19 L599.15 197.12 L600.35 202.05 L601.57 206.97 L602.82 211.87 L604.09 216.74 L605.40 221.57 L606.73 226.37 L608.09 231.11 L609.47 235.81 L610.89 240.45 L612.32 245.03 L613.79 249.54 L615.27 253.99 L616.79 258.36 L618.33 262.66 L619.89 266.88 L621.48 271.02 L623.09 275.08 L624.72 279.05 L626.38 282.94 L628.06 286.74 L629.77 290.45 L631.49 294.08 L633.24 297.61 L635.02 301.06 L636.81 304.42 L638.63 307.68 L640.47 310.86 L642.33 313.95 L644.21 316.95 L646.12 319.86 L648.04 322.69 L649.99 325.43 L651.95 328.08 L653.94 330.65 L655.95 333.14 L657.98 335.55 L660.03 337.88 L662.10 340.13 L664.19 342.30 L666.30 344.39 L668.43 346.42 L670.58 348.37 L672.75 350.25 L674.94 352.06 L677.15 353.80 L679.37 355.48 L681.62 357.09 L683.89 358.65 L686.17 360.14 L688.47 361.57 L690.80 362.95 L693.14 364.27 L695.50 365.54 L697.87 366.76 L700.27 367.93 L702.69 369.05 L705.12 370.12 L707.57 371.15 L710.04 372.14 L712.53 373.08 L715.03 373.98 L717.55 374.84 L720.09 375.67 L722.65 376.46 L725.22 377.21 L727.82 377.94 L730.43 378.63 L733.05 379.28 L735.70 379.91 L738.36 380.51 L741.04 381.09 L743.73 381.64 L746.45 382.16 L749.18 382.66 L751.92 383.13 L754.68 383.58 L757.46 384.02 L760.26 384.43 L763.07 384.82 L765.90 385.20 L768.75 385.55 L771.61 385.89 L774.48 386.22 L777.38 386.53 L780.29 386.82 L783.21 387.10 L786.16 387.37 L789.11 387.62 L792.09 387.87 L795.08 388.10 L798.08 388.32 L801.10 388.53 L804.14 388.73 L807.19 388.92 L810.26 389.10 L813.35 389.27 L816.44 389.43 L819.56 389.59 L822.69 389.74 L825.83 389.88 L828.99 390.02 L832.17 390.14 L835.36 390.27 L838.57 390.38 L841.79 390.50 L845.02 390.60 L848.27 390.70 L851.54 390.80 L854.82 390.89 L858.11 390.98 L861.43 391.06 L864.75 391.14 L868.09 391.22 L871.44 391.29 L874.81 391.36 L878.20 391.42 L881.59 391.49 L885.01 391.55 L888.43 391.60 L891.88 391.66 L895.33 391.71 L898.80 391.76 L902.29 391.81 L905.78 391.85 L909.30 391.90 L912.82 391.94 L916.37 391.98 L919.92 392.01 L923.49 392.05 L927.07 392.08 L930.67 392.12 L934.28 392.15 L937.91 392.18 L941.55 392.21 L945.20 392.23" fill="none" stroke="#1a9ed3" stroke-width="2.1" stroke-linecap="round" stroke-dasharray="0.9 6.0"/>
<path d="M581.50 106.50 L581.61 107.26 L581.83 108.79 L582.14 110.86 L582.51 113.38 L582.94 116.27 L583.43 119.50 L583.98 123.03 L584.56 126.81 L585.20 130.83 L585.88 135.06 L586.60 139.46 L587.36 144.03 L588.16 148.74 L589.00 153.57 L589.88 158.50 L590.79 163.51 L591.74 168.60 L592.72 173.74 L593.73 178.93 L594.78 184.14 L595.86 189.37 L596.97 194.61 L598.11 199.83 L599.28 205.05 L600.48 210.23 L601.70 215.38 L602.96 220.49 L604.25 225.55 L605.56 230.55 L606.90 235.49 L608.27 240.36 L609.67 245.15 L611.09 249.86 L612.53 254.49 L614.01 259.04 L615.51 263.49 L617.03 267.85 L618.58 272.11 L620.15 276.27 L621.75 280.34 L623.37 284.30 L625.02 288.16 L626.69 291.91 L628.38 295.57 L630.10 299.11 L631.84 302.56 L633.60 305.90 L635.39 309.14 L637.19 312.28 L639.02 315.31 L640.87 318.25 L642.75 321.08 L644.64 323.82 L646.56 326.46 L648.50 329.01 L650.46 331.47 L652.44 333.83 L654.44 336.11 L656.46 338.30 L658.51 340.40 L660.57 342.43 L662.65 344.37 L664.76 346.23 L666.88 348.02 L669.03 349.73 L671.19 351.38 L673.38 352.95 L675.58 354.46 L677.80 355.90 L680.05 357.28 L682.31 358.59 L684.59 359.85 L686.89 361.06 L689.21 362.21 L691.55 363.30 L693.90 364.35 L696.28 365.35 L698.67 366.30 L701.09 367.21 L703.52 368.07 L705.97 368.90 L708.44 369.68 L710.92 370.43 L713.43 371.14 L715.95 371.82 L718.49 372.46 L721.04 373.07 L723.62 373.66 L726.21 374.21 L728.82 374.74 L731.45 375.24 L734.10 375.72 L736.76 376.17 L739.44 376.60 L742.14 377.01 L744.85 377.40 L747.58 377.77 L750.33 378.12 L753.09 378.46 L755.87 378.78 L758.67 379.08 L761.49 379.37 L764.32 379.64 L767.17 379.90 L770.03 380.15 L772.91 380.39 L775.81 380.61 L778.72 380.82 L781.65 381.03 L784.60 381.22 L787.56 381.40 L790.54 381.58 L793.54 381.75 L796.55 381.91 L799.57 382.06 L802.61 382.20 L805.67 382.34 L808.74 382.47 L811.83 382.60 L814.94 382.72 L818.06 382.83 L821.19 382.94 L824.35 383.05 L827.51 383.15 L830.69 383.25 L833.89 383.34 L837.10 383.43 L840.33 383.51 L843.58 383.59 L846.83 383.67 L850.11 383.74 L853.40 383.81 L856.70 383.88 L860.02 383.95 L863.35 384.01 L866.70 384.07 L870.06 384.13 L873.44 384.19 L876.83 384.24 L880.24 384.29 L883.66 384.34 L887.09 384.39 L890.54 384.43 L894.01 384.48 L897.49 384.52 L900.98 384.56 L904.49 384.60 L908.01 384.64 L911.55 384.68 L915.10 384.71 L918.67 384.74 L922.25 384.78 L925.84 384.81 L929.45 384.84 L933.07 384.87 L936.71 384.90 L940.36 384.93 L944.02 384.95 L947.70 384.98" fill="none" stroke="#e32112" stroke-width="2.0" stroke-linejoin="round"/>
<path d="M581.50 106.50 L581.61 107.30 L581.83 108.92 L582.14 111.12 L582.51 113.78 L582.94 116.84 L583.43 120.25 L583.98 123.97 L584.56 127.96 L585.20 132.19 L585.88 136.63 L586.60 141.26 L587.36 146.05 L588.16 150.98 L589.00 156.04 L589.88 161.19 L590.79 166.44 L591.74 171.74 L592.72 177.10 L593.73 182.50 L594.78 187.92 L595.86 193.35 L596.97 198.78 L598.11 204.20 L599.28 209.60 L600.48 214.97 L601.70 220.29 L602.96 225.57 L604.25 230.79 L605.56 235.96 L606.90 241.05 L608.27 246.07 L609.67 251.02 L611.09 255.88 L612.53 260.65 L614.01 265.34 L615.51 269.93 L617.03 274.43 L618.58 278.83 L620.15 283.14 L621.75 287.34 L623.37 291.45 L625.02 295.45 L626.69 299.35 L628.38 303.15 L630.10 306.85 L631.84 310.45 L633.60 313.94 L635.39 317.34 L637.19 320.63 L639.02 323.83 L640.87 326.94 L642.75 329.94 L644.64 332.86 L646.56 335.68 L648.50 338.41 L650.46 341.05 L652.44 343.60 L654.44 346.07 L656.46 348.45 L658.51 350.76 L660.57 352.98 L662.65 355.12 L664.76 357.19 L666.88 359.19 L669.03 361.11 L671.19 362.97 L673.38 364.75 L675.58 366.47 L677.80 368.12 L680.05 369.72 L682.31 371.25 L684.59 372.72 L686.89 374.14 L689.21 375.50 L691.55 376.81 L693.90 378.06 L696.28 379.27 L698.67 380.43 L701.09 381.54 L703.52 382.61 L705.97 383.63 L708.44 384.61 L710.92 385.55 L713.43 386.46 L715.95 387.32 L718.49 388.15 L721.04 388.94 L723.62 389.70 L726.21 390.43 L728.82 391.13 L731.45 391.79 L734.10 392.43 L736.76 393.04 L739.44 393.62 L742.14 394.18 L744.85 394.71 L747.58 395.22 L750.33 395.70 L753.09 396.17 L755.87 396.61 L758.67 397.03 L761.49 397.43 L764.32 397.82 L767.17 398.19 L770.03 398.54 L772.91 398.87 L775.81 399.19 L778.72 399.49 L781.65 399.78 L784.60 400.05 L787.56 400.31 L790.54 400.56 L793.54 400.80 L796.55 401.02 L799.57 401.24 L802.61 401.44 L805.67 401.63 L808.74 401.82 L811.83 401.99 L814.94 402.16 L818.06 402.31 L821.19 402.46 L824.35 402.60 L827.51 402.74 L830.69 402.87 L833.89 402.99 L837.10 403.10 L840.33 403.21 L843.58 403.31 L846.83 403.41 L850.11 403.50 L853.40 403.59 L856.70 403.67 L860.02 403.75 L863.35 403.82 L866.70 403.89 L870.06 403.96 L873.44 404.02 L876.83 404.08 L880.24 404.14 L883.66 404.19 L887.09 404.24 L890.54 404.28 L894.01 404.33 L897.49 404.37 L900.98 404.41 L904.49 404.45 L908.01 404.48 L911.55 404.51 L915.10 404.55 L918.67 404.58 L922.25 404.60 L925.84 404.63 L929.45 404.65 L933.07 404.68 L936.71 404.70 L940.36 404.72 L944.02 404.74 L947.70 404.75" fill="none" stroke="#5a4133" stroke-width="2.0" stroke-linejoin="round"/>
<path d="M581.50 106.50 L581.61 107.47 L581.83 109.44 L582.14 112.10 L582.51 115.32 L582.94 119.02 L583.43 123.15 L583.98 127.63 L584.56 132.44 L585.20 137.53 L585.88 142.87 L586.60 148.42 L587.36 154.16 L588.16 160.05 L589.00 166.07 L589.88 172.20 L590.79 178.41 L591.74 184.68 L592.72 190.99 L593.73 197.33 L594.78 203.68 L595.86 210.01 L596.97 216.32 L598.11 222.60 L599.28 228.82 L600.48 234.98 L601.70 241.06 L602.96 247.06 L604.25 252.97 L605.56 258.78 L606.90 264.48 L608.27 270.07 L609.67 275.54 L611.09 280.88 L612.53 286.10 L614.01 291.18 L615.51 296.13 L617.03 300.94 L618.58 305.61 L620.15 310.14 L621.75 314.52 L623.37 318.77 L625.02 322.88 L626.69 326.84 L628.38 330.67 L630.10 334.35 L631.84 337.90 L633.60 341.32 L635.39 344.60 L637.19 347.74 L639.02 350.77 L640.87 353.66 L642.75 356.43 L644.64 359.08 L646.56 361.61 L648.50 364.03 L650.46 366.34 L652.44 368.54 L654.44 370.64 L656.46 372.64 L658.51 374.53 L660.57 376.34 L662.65 378.05 L664.76 379.68 L666.88 381.22 L669.03 382.68 L671.19 384.06 L673.38 385.37 L675.58 386.60 L677.80 387.77 L680.05 388.87 L682.31 389.91 L684.59 390.89 L686.89 391.82 L689.21 392.69 L691.55 393.51 L693.90 394.28 L696.28 395.00 L698.67 395.68 L701.09 396.32 L703.52 396.91 L705.97 397.47 L708.44 398.00 L710.92 398.49 L713.43 398.95 L715.95 399.38 L718.49 399.78 L721.04 400.15 L723.62 400.50 L726.21 400.82 L728.82 401.13 L731.45 401.41 L734.10 401.67 L736.76 401.92 L739.44 402.15 L742.14 402.36 L744.85 402.55 L747.58 402.74 L750.33 402.91 L753.09 403.06 L755.87 403.21 L758.67 403.34 L761.49 403.47 L764.32 403.58 L767.17 403.69 L770.03 403.79 L772.91 403.88 L775.81 403.96 L778.72 404.04 L781.65 404.11 L784.60 404.18 L787.56 404.24 L790.54 404.29 L793.54 404.34 L796.55 404.39 L799.57 404.43 L802.61 404.47 L805.67 404.51 L808.74 404.54 L811.83 404.58 L814.94 404.60 L818.06 404.63 L821.19 404.65 L824.35 404.67 L827.51 404.69 L830.69 404.71 L833.89 404.73 L837.10 404.74 L840.33 404.76 L843.58 404.77 L846.83 404.78 L850.11 404.79 L853.40 404.80 L856.70 404.81 L860.02 404.82 L863.35 404.83 L866.70 404.83 L870.06 404.84 L873.44 404.84 L876.83 404.85 L880.24 404.85 L883.66 404.86 L887.09 404.86 L890.54 404.87 L894.01 404.87 L897.49 404.87 L900.98 404.87 L904.49 404.88 L908.01 404.88 L911.55 404.88 L915.10 404.88 L918.67 404.88 L922.25 404.88 L925.84 404.89 L929.45 404.89 L933.07 404.89 L936.71 404.89 L940.36 404.89 L944.02 404.89 L947.70 404.89" fill="none" stroke="#2c6e2c" stroke-width="2.0" stroke-linejoin="round"/>
<path d="M100.50 514.70V853.50H467.70" fill="none" stroke="#a2a2a2" stroke-width="1"/>
<path d="M97.00 853.50H100.50" stroke="#a2a2a2" stroke-width="1"/>
<text x="84.45" y="860.00" text-anchor="middle" class="tk">0</text>
<path d="M97.00 796.50H100.50" stroke="#a2a2a2" stroke-width="1"/>
<text x="84.45" y="802.59" text-anchor="middle" class="tk">5</text>
<path d="M97.00 740.50H100.50" stroke="#a2a2a2" stroke-width="1"/>
<text x="84.45" y="746.17" text-anchor="middle" class="tk">10</text>
<path d="M97.00 683.50H100.50" stroke="#a2a2a2" stroke-width="1"/>
<text x="84.45" y="689.75" text-anchor="middle" class="tk">15</text>
<path d="M97.00 627.50H100.50" stroke="#a2a2a2" stroke-width="1"/>
<text x="84.45" y="633.34" text-anchor="middle" class="tk">20</text>
<path d="M97.00 571.50H100.50" stroke="#a2a2a2" stroke-width="1"/>
<text x="84.45" y="576.92" text-anchor="middle" class="tk">25</text>
<path d="M97.00 514.50H100.50" stroke="#a2a2a2" stroke-width="1"/>
<text x="84.45" y="520.51" text-anchor="middle" class="tk">30</text>
<path d="M100.50 853.50V856.50" stroke="#a2a2a2" stroke-width="1"/>
<text x="103.45" y="873.00" text-anchor="middle" class="tk">0%</text>
<path d="M192.50 853.50V856.50" stroke="#a2a2a2" stroke-width="1"/>
<text x="193.76" y="873.00" text-anchor="middle" class="tk">25%</text>
<path d="M284.50 853.50V856.50" stroke="#a2a2a2" stroke-width="1"/>
<text x="287.07" y="873.00" text-anchor="middle" class="tk">50%</text>
<path d="M375.50 853.50V856.50" stroke="#a2a2a2" stroke-width="1"/>
<text x="379.09" y="873.00" text-anchor="middle" class="tk">75%</text>
<path d="M467.50 853.50V856.50" stroke="#a2a2a2" stroke-width="1"/>
<text x="468.70" y="873.00" text-anchor="middle" class="tk">100%</text>
<text x="285.07" y="894.50" text-anchor="middle" class="at">Percentage of full label dose</text>
<text transform="translate(67.25 691.95) rotate(-90)" text-anchor="middle" class="at">% disease</text>
<text x="50.20" y="916.40" class="cap" style="font-size:14.55px">Figure 2. Septoria eradication</text>
<path d="M100.45 576.20 L100.56 576.25 L100.78 576.36 L101.09 576.51 L101.46 576.69 L101.90 576.89 L102.39 577.12 L102.93 577.38 L103.52 577.66 L104.16 577.96 L104.84 578.27 L105.57 578.61 L106.33 578.96 L107.13 579.33 L107.98 579.71 L108.85 580.11 L109.77 580.52 L110.72 580.94 L111.70 581.38 L112.72 581.83 L113.77 582.29 L114.85 582.76 L115.96 583.24 L117.10 583.73 L118.28 584.23 L119.48 584.74 L120.71 585.26 L121.97 585.79 L123.26 586.32 L124.58 586.87 L125.93 587.42 L127.30 587.98 L128.70 588.55 L130.12 589.12 L131.57 589.70 L133.05 590.29 L134.55 590.88 L136.08 591.48 L137.64 592.09 L139.21 592.70 L140.82 593.32 L142.44 593.95 L144.09 594.58 L145.77 595.21 L147.47 595.85 L149.19 596.50 L150.93 597.15 L152.70 597.81 L154.49 598.47 L156.30 599.13 L158.14 599.80 L159.99 600.48 L161.87 601.16 L163.77 601.84 L165.70 602.53 L167.64 603.22 L169.61 603.91 L171.59 604.61 L173.60 605.31 L175.63 606.02 L177.68 606.72 L179.75 607.44 L181.84 608.15 L183.95 608.87 L186.08 609.59 L188.23 610.32 L190.40 611.04 L192.59 611.77 L194.80 612.51 L197.03 613.24 L199.28 613.98 L201.55 614.72 L203.84 615.46 L206.14 616.20 L208.47 616.95 L210.81 617.70 L213.18 618.45 L215.56 619.20 L217.96 619.95 L220.38 620.70 L222.82 621.46 L225.28 622.22 L227.75 622.97 L230.24 623.73 L232.75 624.49 L235.28 625.26 L237.83 626.02 L240.39 626.78 L242.98 627.55 L245.58 628.31 L248.20 629.07 L250.83 629.84 L253.48 630.60 L256.15 631.37 L258.84 632.14 L261.55 632.90 L264.27 633.67 L267.01 634.44 L269.76 635.20 L272.53 635.97 L275.32 636.73 L278.13 637.50 L280.95 638.26 L283.79 639.03 L286.65 639.79 L289.52 640.55 L292.41 641.32 L295.32 642.08 L298.24 642.84 L301.18 643.60 L304.13 644.36 L307.10 645.11 L310.09 645.87 L313.09 646.62 L316.11 647.38 L319.15 648.13 L322.20 648.88 L325.26 649.63 L328.35 650.38 L331.44 651.13 L334.56 651.87 L337.69 652.62 L340.83 653.36 L343.99 654.10 L347.17 654.84 L350.36 655.58 L353.57 656.31 L356.79 657.04 L360.02 657.77 L363.28 658.50 L366.54 659.23 L369.83 659.95 L373.12 660.68 L376.44 661.40 L379.76 662.11 L383.11 662.83 L386.46 663.54 L389.84 664.25 L393.22 664.96 L396.63 665.67 L400.04 666.37 L403.47 667.07 L406.92 667.77 L410.38 668.47 L413.86 669.16 L417.34 669.85 L420.85 670.54 L424.37 671.22 L427.90 671.90 L431.45 672.58 L435.01 673.26 L438.58 673.93 L442.17 674.60 L445.78 675.27 L449.40 675.94 L453.03 676.60 L456.68 677.26 L460.34 677.91 L464.01 678.57 L467.70 679.22" fill="none" stroke="#92c31e" stroke-width="2.0" stroke-linejoin="round"/>
<path d="M100.45 576.20 L100.56 576.25 L100.78 576.35 L101.09 576.49 L101.46 576.66 L101.90 576.85 L102.39 577.07 L102.93 577.31 L103.52 577.58 L104.16 577.86 L104.84 578.16 L105.57 578.48 L106.33 578.82 L107.13 579.18 L107.98 579.55 L108.85 579.93 L109.77 580.33 L110.72 580.75 L111.70 581.17 L112.72 581.61 L113.77 582.07 L114.85 582.53 L115.96 583.01 L117.10 583.50 L118.28 584.00 L119.48 584.51 L120.71 585.03 L121.97 585.56 L123.26 586.10 L124.58 586.64 L125.93 587.20 L127.30 587.77 L128.70 588.34 L130.12 588.93 L131.57 589.52 L133.05 590.12 L134.55 590.72 L136.08 591.34 L137.64 591.96 L139.21 592.58 L140.82 593.22 L142.44 593.86 L144.09 594.50 L145.77 595.15 L147.47 595.81 L149.19 596.47 L150.93 597.14 L152.70 597.81 L154.49 598.48 L156.30 599.16 L158.14 599.85 L159.99 600.54 L161.87 601.23 L163.77 601.93 L165.70 602.63 L167.64 603.33 L169.61 604.03 L171.59 604.74 L173.60 605.46 L175.63 606.17 L177.68 606.89 L179.75 607.61 L181.84 608.33 L183.95 609.05 L186.08 609.78 L188.23 610.50 L190.40 611.23 L192.59 611.96 L194.80 612.69 L197.03 613.42 L199.28 614.16 L201.55 614.89 L203.84 615.62 L206.14 616.36 L208.47 617.09 L210.81 617.83 L213.18 618.56 L215.56 619.30 L217.96 620.04 L220.38 620.77 L222.82 621.51 L225.28 622.24 L227.75 622.97 L230.24 623.71 L232.75 624.44 L235.28 625.17 L237.83 625.90 L240.39 626.63 L242.98 627.36 L245.58 628.09 L248.20 628.81 L250.83 629.54 L253.48 630.26 L256.15 630.98 L258.84 631.70 L261.55 632.42 L264.27 633.13 L267.01 633.85 L269.76 634.56 L272.53 635.27 L275.32 635.97 L278.13 636.68 L280.95 637.38 L283.79 638.08 L286.65 638.78 L289.52 639.47 L292.41 640.16 L295.32 640.85 L298.24 641.54 L301.18 642.22 L304.13 642.90 L307.10 643.58 L310.09 644.26 L313.09 644.93 L316.11 645.60 L319.15 646.26 L322.20 646.93 L325.26 647.58 L328.35 648.24 L331.44 648.89 L334.56 649.54 L337.69 650.19 L340.83 650.83 L343.99 651.47 L347.17 652.10 L350.36 652.73 L353.57 653.36 L356.79 653.98 L360.02 654.60 L363.28 655.22 L366.54 655.83 L369.83 656.44 L373.12 657.05 L376.44 657.65 L379.76 658.24 L383.11 658.84 L386.46 659.43 L389.84 660.01 L393.22 660.59 L396.63 661.17 L400.04 661.74 L403.47 662.31 L406.92 662.88 L410.38 663.44 L413.86 664.00 L417.34 664.55 L420.85 665.10 L424.37 665.64 L427.90 666.18 L431.45 666.72 L435.01 667.25 L438.58 667.78 L442.17 668.31 L445.78 668.83 L449.40 669.34 L453.03 669.85 L456.68 670.36 L460.34 670.86 L464.01 671.36 L467.70 671.86" fill="none" stroke="#5a4133" stroke-width="2.0" stroke-linejoin="round"/>
<path d="M100.45 576.20 L100.56 576.44 L100.78 576.94 L101.09 577.60 L101.46 578.42 L101.90 579.37 L102.39 580.43 L102.93 581.60 L103.52 582.87 L104.16 584.22 L104.84 585.66 L105.57 587.18 L106.33 588.78 L107.13 590.44 L107.98 592.17 L108.85 593.96 L109.77 595.80 L110.72 597.70 L111.70 599.65 L112.72 601.64 L113.77 603.68 L114.85 605.76 L115.96 607.87 L117.10 610.02 L118.28 612.20 L119.48 614.41 L120.71 616.65 L121.97 618.91 L123.26 621.19 L124.58 623.49 L125.93 625.82 L127.30 628.15 L128.70 630.50 L130.12 632.86 L131.57 635.23 L133.05 637.61 L134.55 640.00 L136.08 642.38 L137.64 644.78 L139.21 647.17 L140.82 649.56 L142.44 651.95 L144.09 654.34 L145.77 656.72 L147.47 659.09 L149.19 661.46 L150.93 663.82 L152.70 666.17 L154.49 668.50 L156.30 670.83 L158.14 673.14 L159.99 675.44 L161.87 677.73 L163.77 679.99 L165.70 682.24 L167.64 684.48 L169.61 686.69 L171.59 688.89 L173.60 691.06 L175.63 693.22 L177.68 695.35 L179.75 697.46 L181.84 699.55 L183.95 701.62 L186.08 703.66 L188.23 705.68 L190.40 707.68 L192.59 709.65 L194.80 711.60 L197.03 713.52 L199.28 715.41 L201.55 717.28 L203.84 719.13 L206.14 720.95 L208.47 722.74 L210.81 724.50 L213.18 726.24 L215.56 727.96 L217.96 729.64 L220.38 731.30 L222.82 732.93 L225.28 734.54 L227.75 736.12 L230.24 737.67 L232.75 739.20 L235.28 740.70 L237.83 742.17 L240.39 743.61 L242.98 745.03 L245.58 746.43 L248.20 747.79 L250.83 749.14 L253.48 750.45 L256.15 751.74 L258.84 753.01 L261.55 754.24 L264.27 755.46 L267.01 756.65 L269.76 757.81 L272.53 758.96 L275.32 760.07 L278.13 761.17 L280.95 762.24 L283.79 763.28 L286.65 764.31 L289.52 765.31 L292.41 766.29 L295.32 767.24 L298.24 768.18 L301.18 769.09 L304.13 769.98 L307.10 770.85 L310.09 771.70 L313.09 772.53 L316.11 773.34 L319.15 774.14 L322.20 774.91 L325.26 775.66 L328.35 776.39 L331.44 777.11 L334.56 777.81 L337.69 778.49 L340.83 779.15 L343.99 779.80 L347.17 780.43 L350.36 781.04 L353.57 781.63 L356.79 782.22 L360.02 782.78 L363.28 783.33 L366.54 783.87 L369.83 784.39 L373.12 784.89 L376.44 785.39 L379.76 785.86 L383.11 786.33 L386.46 786.78 L389.84 787.22 L393.22 787.65 L396.63 788.06 L400.04 788.47 L403.47 788.86 L406.92 789.24 L410.38 789.61 L413.86 789.96 L417.34 790.31 L420.85 790.65 L424.37 790.98 L427.90 791.29 L431.45 791.60 L435.01 791.90 L438.58 792.19 L442.17 792.47 L445.78 792.74 L449.40 793.00 L453.03 793.26 L456.68 793.50 L460.34 793.74 L464.01 793.97 L467.70 794.20" fill="none" stroke="#1e3a42" stroke-width="2.1" stroke-linecap="round" stroke-dasharray="0.9 6.0"/>
<path d="M100.45 576.20 L100.56 576.45 L100.78 576.97 L101.09 577.67 L101.46 578.53 L101.90 579.52 L102.39 580.63 L102.93 581.85 L103.52 583.17 L104.16 584.59 L104.84 586.09 L105.57 587.67 L106.33 589.33 L107.13 591.06 L107.98 592.85 L108.85 594.70 L109.77 596.61 L110.72 598.57 L111.70 600.58 L112.72 602.64 L113.77 604.74 L114.85 606.87 L115.96 609.04 L117.10 611.24 L118.28 613.47 L119.48 615.72 L120.71 618.00 L121.97 620.30 L123.26 622.62 L124.58 624.95 L125.93 627.30 L127.30 629.66 L128.70 632.03 L130.12 634.40 L131.57 636.78 L133.05 639.16 L134.55 641.54 L136.08 643.92 L137.64 646.30 L139.21 648.67 L140.82 651.04 L142.44 653.40 L144.09 655.75 L145.77 658.09 L147.47 660.42 L149.19 662.73 L150.93 665.03 L152.70 667.32 L154.49 669.59 L156.30 671.84 L158.14 674.07 L159.99 676.28 L161.87 678.47 L163.77 680.64 L165.70 682.79 L167.64 684.92 L169.61 687.02 L171.59 689.10 L173.60 691.15 L175.63 693.18 L177.68 695.18 L179.75 697.16 L181.84 699.11 L183.95 701.03 L186.08 702.93 L188.23 704.79 L190.40 706.63 L192.59 708.44 L194.80 710.22 L197.03 711.98 L199.28 713.70 L201.55 715.40 L203.84 717.06 L206.14 718.70 L208.47 720.31 L210.81 721.89 L213.18 723.44 L215.56 724.96 L217.96 726.45 L220.38 727.92 L222.82 729.35 L225.28 730.76 L227.75 732.14 L230.24 733.49 L232.75 734.81 L235.28 736.10 L237.83 737.37 L240.39 738.61 L242.98 739.82 L245.58 741.01 L248.20 742.16 L250.83 743.30 L253.48 744.40 L256.15 745.48 L258.84 746.54 L261.55 747.57 L264.27 748.57 L267.01 749.55 L269.76 750.51 L272.53 751.45 L275.32 752.36 L278.13 753.24 L280.95 754.11 L283.79 754.95 L286.65 755.77 L289.52 756.57 L292.41 757.35 L295.32 758.10 L298.24 758.84 L301.18 759.56 L304.13 760.25 L307.10 760.93 L310.09 761.59 L313.09 762.23 L316.11 762.85 L319.15 763.46 L322.20 764.05 L325.26 764.62 L328.35 765.17 L331.44 765.71 L334.56 766.23 L337.69 766.73 L340.83 767.23 L343.99 767.70 L347.17 768.16 L350.36 768.61 L353.57 769.05 L356.79 769.47 L360.02 769.87 L363.28 770.27 L366.54 770.65 L369.83 771.02 L373.12 771.38 L376.44 771.72 L379.76 772.06 L383.11 772.38 L386.46 772.70 L389.84 773.00 L393.22 773.29 L396.63 773.58 L400.04 773.85 L403.47 774.12 L406.92 774.37 L410.38 774.62 L413.86 774.86 L417.34 775.09 L420.85 775.31 L424.37 775.52 L427.90 775.73 L431.45 775.93 L435.01 776.12 L438.58 776.31 L442.17 776.49 L445.78 776.66 L449.40 776.83 L453.03 776.99 L456.68 777.14 L460.34 777.29 L464.01 777.44 L467.70 777.57" fill="none" stroke="#b9cf1f" stroke-width="2.1" stroke-linecap="round" stroke-dasharray="0.9 6.0"/>
<path d="M100.45 576.20 L100.56 576.40 L100.78 576.80 L101.09 577.32 L101.46 577.95 L101.90 578.66 L102.39 579.43 L102.93 580.27 L103.52 581.16 L104.16 582.10 L104.84 583.09 L105.57 584.12 L106.33 585.20 L107.13 586.33 L107.98 587.49 L108.85 588.70 L109.77 589.95 L110.72 591.23 L111.70 592.56 L112.72 593.91 L113.77 595.30 L114.85 596.72 L115.96 598.17 L117.10 599.65 L118.28 601.16 L119.48 602.69 L120.71 604.24 L121.97 605.82 L123.26 607.41 L124.58 609.03 L125.93 610.67 L127.30 612.32 L128.70 613.99 L130.12 615.67 L131.57 617.36 L133.05 619.07 L134.55 620.79 L136.08 622.52 L137.64 624.26 L139.21 626.01 L140.82 627.76 L142.44 629.52 L144.09 631.29 L145.77 633.06 L147.47 634.83 L149.19 636.61 L150.93 638.39 L152.70 640.17 L154.49 641.95 L156.30 643.72 L158.14 645.50 L159.99 647.28 L161.87 649.05 L163.77 650.82 L165.70 652.59 L167.64 654.35 L169.61 656.10 L171.59 657.85 L173.60 659.60 L175.63 661.33 L177.68 663.06 L179.75 664.78 L181.84 666.50 L183.95 668.20 L186.08 669.90 L188.23 671.58 L190.40 673.26 L192.59 674.92 L194.80 676.57 L197.03 678.21 L199.28 679.84 L201.55 681.46 L203.84 683.07 L206.14 684.66 L208.47 686.24 L210.81 687.80 L213.18 689.36 L215.56 690.89 L217.96 692.42 L220.38 693.93 L222.82 695.42 L225.28 696.90 L227.75 698.37 L230.24 699.82 L232.75 701.26 L235.28 702.68 L237.83 704.08 L240.39 705.47 L242.98 706.85 L245.58 708.20 L248.20 709.55 L250.83 710.87 L253.48 712.18 L256.15 713.48 L258.84 714.75 L261.55 716.01 L264.27 717.26 L267.01 718.49 L269.76 719.70 L272.53 720.90 L275.32 722.08 L278.13 723.24 L280.95 724.39 L283.79 725.52 L286.65 726.64 L289.52 727.74 L292.41 728.82 L295.32 729.89 L298.24 730.94 L301.18 731.97 L304.13 732.99 L307.10 734.00 L310.09 734.98 L313.09 735.96 L316.11 736.91 L319.15 737.85 L322.20 738.78 L325.26 739.69 L328.35 740.59 L331.44 741.47 L334.56 742.33 L337.69 743.19 L340.83 744.02 L343.99 744.85 L347.17 745.65 L350.36 746.45 L353.57 747.23 L356.79 747.99 L360.02 748.74 L363.28 749.48 L366.54 750.21 L369.83 750.92 L373.12 751.62 L376.44 752.30 L379.76 752.97 L383.11 753.63 L386.46 754.28 L389.84 754.91 L393.22 755.53 L396.63 756.14 L400.04 756.74 L403.47 757.33 L406.92 757.90 L410.38 758.46 L413.86 759.02 L417.34 759.56 L420.85 760.08 L424.37 760.60 L427.90 761.11 L431.45 761.61 L435.01 762.09 L438.58 762.57 L442.17 763.04 L445.78 763.49 L449.40 763.94 L453.03 764.37 L456.68 764.80 L460.34 765.22 L464.01 765.63 L467.70 766.03" fill="none" stroke="#93a9b5" stroke-width="2.0" stroke-linejoin="round"/>
<path d="M100.45 576.20 L100.56 576.39 L100.78 576.78 L101.09 577.31 L101.46 577.96 L101.90 578.71 L102.39 579.55 L102.93 580.48 L103.52 581.49 L104.16 582.56 L104.84 583.71 L105.57 584.92 L106.33 586.18 L107.13 587.51 L107.98 588.88 L108.85 590.30 L109.77 591.77 L110.72 593.28 L111.70 594.83 L112.72 596.42 L113.77 598.05 L114.85 599.71 L115.96 601.40 L117.10 603.11 L118.28 604.86 L119.48 606.62 L120.71 608.42 L121.97 610.23 L123.26 612.06 L124.58 613.90 L125.93 615.77 L127.30 617.64 L128.70 619.53 L130.12 621.43 L131.57 623.34 L133.05 625.26 L134.55 627.18 L136.08 629.11 L137.64 631.04 L139.21 632.97 L140.82 634.90 L142.44 636.84 L144.09 638.77 L145.77 640.70 L147.47 642.63 L149.19 644.55 L150.93 646.47 L152.70 648.38 L154.49 650.29 L156.30 652.18 L158.14 654.07 L159.99 655.95 L161.87 657.81 L163.77 659.67 L165.70 661.51 L167.64 663.34 L169.61 665.16 L171.59 666.97 L173.60 668.75 L175.63 670.53 L177.68 672.29 L179.75 674.03 L181.84 675.76 L183.95 677.46 L186.08 679.16 L188.23 680.83 L190.40 682.49 L192.59 684.12 L194.80 685.74 L197.03 687.34 L199.28 688.92 L201.55 690.48 L203.84 692.02 L206.14 693.54 L208.47 695.05 L210.81 696.53 L213.18 697.99 L215.56 699.43 L217.96 700.84 L220.38 702.24 L222.82 703.62 L225.28 704.98 L227.75 706.31 L230.24 707.62 L232.75 708.92 L235.28 710.19 L237.83 711.44 L240.39 712.67 L242.98 713.88 L245.58 715.07 L248.20 716.24 L250.83 717.39 L253.48 718.52 L256.15 719.62 L258.84 720.71 L261.55 721.78 L264.27 722.82 L267.01 723.85 L269.76 724.86 L272.53 725.84 L275.32 726.81 L278.13 727.76 L280.95 728.69 L283.79 729.60 L286.65 730.49 L289.52 731.37 L292.41 732.22 L295.32 733.06 L298.24 733.88 L301.18 734.68 L304.13 735.47 L307.10 736.23 L310.09 736.98 L313.09 737.72 L316.11 738.44 L319.15 739.14 L322.20 739.82 L325.26 740.49 L328.35 741.14 L331.44 741.78 L334.56 742.41 L337.69 743.02 L340.83 743.61 L343.99 744.19 L347.17 744.75 L350.36 745.31 L353.57 745.84 L356.79 746.37 L360.02 746.88 L363.28 747.38 L366.54 747.87 L369.83 748.34 L373.12 748.80 L376.44 749.25 L379.76 749.69 L383.11 750.11 L386.46 750.53 L389.84 750.93 L393.22 751.33 L396.63 751.71 L400.04 752.08 L403.47 752.44 L406.92 752.80 L410.38 753.14 L413.86 753.47 L417.34 753.80 L420.85 754.11 L424.37 754.42 L427.90 754.71 L431.45 755.00 L435.01 755.28 L438.58 755.56 L442.17 755.82 L445.78 756.08 L449.40 756.33 L453.03 756.57 L456.68 756.80 L460.34 757.03 L464.01 757.25 L467.70 757.47" fill="none" stroke="#f7e62e" stroke-width="2.0" stroke-linejoin="round"/>
<path d="M100.45 576.20 L100.56 576.36 L100.78 576.70 L101.09 577.15 L101.46 577.71 L101.90 578.35 L102.39 579.07 L102.93 579.87 L103.52 580.73 L104.16 581.65 L104.84 582.64 L105.57 583.67 L106.33 584.77 L107.13 585.90 L107.98 587.09 L108.85 588.32 L109.77 589.59 L110.72 590.90 L111.70 592.24 L112.72 593.62 L113.77 595.04 L114.85 596.48 L115.96 597.95 L117.10 599.45 L118.28 600.97 L119.48 602.52 L120.71 604.09 L121.97 605.68 L123.26 607.29 L124.58 608.92 L125.93 610.57 L127.30 612.23 L128.70 613.90 L130.12 615.59 L131.57 617.28 L133.05 618.99 L134.55 620.71 L136.08 622.43 L137.64 624.16 L139.21 625.90 L140.82 627.64 L142.44 629.39 L144.09 631.14 L145.77 632.89 L147.47 634.64 L149.19 636.39 L150.93 638.14 L152.70 639.88 L154.49 641.63 L156.30 643.37 L158.14 645.11 L159.99 646.84 L161.87 648.57 L163.77 650.29 L165.70 652.00 L167.64 653.71 L169.61 655.41 L171.59 657.10 L173.60 658.78 L175.63 660.45 L177.68 662.11 L179.75 663.76 L181.84 665.40 L183.95 667.03 L186.08 668.65 L188.23 670.25 L190.40 671.84 L192.59 673.42 L194.80 674.98 L197.03 676.53 L199.28 678.07 L201.55 679.59 L203.84 681.09 L206.14 682.59 L208.47 684.06 L210.81 685.52 L213.18 686.97 L215.56 688.40 L217.96 689.81 L220.38 691.20 L222.82 692.58 L225.28 693.95 L227.75 695.29 L230.24 696.62 L232.75 697.94 L235.28 699.23 L237.83 700.51 L240.39 701.78 L242.98 703.02 L245.58 704.25 L248.20 705.46 L250.83 706.65 L253.48 707.83 L256.15 708.99 L258.84 710.13 L261.55 711.25 L264.27 712.36 L267.01 713.45 L269.76 714.52 L272.53 715.58 L275.32 716.62 L278.13 717.64 L280.95 718.64 L283.79 719.63 L286.65 720.61 L289.52 721.56 L292.41 722.50 L295.32 723.42 L298.24 724.33 L301.18 725.22 L304.13 726.09 L307.10 726.95 L310.09 727.80 L313.09 728.62 L316.11 729.44 L319.15 730.23 L322.20 731.02 L325.26 731.78 L328.35 732.53 L331.44 733.27 L334.56 734.00 L337.69 734.70 L340.83 735.40 L343.99 736.08 L347.17 736.75 L350.36 737.40 L353.57 738.04 L356.79 738.67 L360.02 739.28 L363.28 739.88 L366.54 740.47 L369.83 741.04 L373.12 741.61 L376.44 742.16 L379.76 742.70 L383.11 743.22 L386.46 743.74 L389.84 744.24 L393.22 744.74 L396.63 745.22 L400.04 745.69 L403.47 746.15 L406.92 746.60 L410.38 747.04 L413.86 747.46 L417.34 747.88 L420.85 748.29 L424.37 748.69 L427.90 749.08 L431.45 749.46 L435.01 749.83 L438.58 750.19 L442.17 750.55 L445.78 750.89 L449.40 751.23 L453.03 751.56 L456.68 751.88 L460.34 752.19 L464.01 752.49 L467.70 752.79" fill="none" stroke="#0a88c8" stroke-width="2.0" stroke-linejoin="round"/>
<path d="M100.45 576.20 L100.56 576.38 L100.78 576.74 L101.09 577.23 L101.46 577.83 L101.90 578.52 L102.39 579.30 L102.93 580.16 L103.52 581.09 L104.16 582.08 L104.84 583.14 L105.57 584.26 L106.33 585.43 L107.13 586.66 L107.98 587.93 L108.85 589.25 L109.77 590.61 L110.72 592.02 L111.70 593.46 L112.72 594.93 L113.77 596.44 L114.85 597.98 L115.96 599.55 L117.10 601.15 L118.28 602.78 L119.48 604.42 L120.71 606.09 L121.97 607.78 L123.26 609.49 L124.58 611.22 L125.93 612.96 L127.30 614.71 L128.70 616.48 L130.12 618.26 L131.57 620.05 L133.05 621.84 L134.55 623.65 L136.08 625.46 L137.64 627.27 L139.21 629.09 L140.82 630.91 L142.44 632.73 L144.09 634.55 L145.77 636.37 L147.47 638.19 L149.19 640.01 L150.93 641.82 L152.70 643.63 L154.49 645.43 L156.30 647.23 L158.14 649.02 L159.99 650.80 L161.87 652.58 L163.77 654.34 L165.70 656.10 L167.64 657.84 L169.61 659.58 L171.59 661.30 L173.60 663.01 L175.63 664.71 L177.68 666.39 L179.75 668.06 L181.84 669.72 L183.95 671.36 L186.08 672.98 L188.23 674.59 L190.40 676.19 L192.59 677.77 L194.80 679.33 L197.03 680.88 L199.28 682.40 L201.55 683.92 L203.84 685.41 L206.14 686.88 L208.47 688.34 L210.81 689.78 L213.18 691.20 L215.56 692.61 L217.96 693.99 L220.38 695.36 L222.82 696.70 L225.28 698.03 L227.75 699.34 L230.24 700.63 L232.75 701.90 L235.28 703.15 L237.83 704.39 L240.39 705.60 L242.98 706.79 L245.58 707.97 L248.20 709.13 L250.83 710.26 L253.48 711.38 L256.15 712.48 L258.84 713.56 L261.55 714.62 L264.27 715.67 L267.01 716.69 L269.76 717.70 L272.53 718.69 L275.32 719.66 L278.13 720.61 L280.95 721.55 L283.79 722.46 L286.65 723.36 L289.52 724.24 L292.41 725.11 L295.32 725.96 L298.24 726.79 L301.18 727.60 L304.13 728.40 L307.10 729.18 L310.09 729.94 L313.09 730.69 L316.11 731.43 L319.15 732.14 L322.20 732.85 L325.26 733.53 L328.35 734.20 L331.44 734.86 L334.56 735.50 L337.69 736.13 L340.83 736.75 L343.99 737.35 L347.17 737.93 L350.36 738.51 L353.57 739.07 L356.79 739.61 L360.02 740.15 L363.28 740.67 L366.54 741.18 L369.83 741.67 L373.12 742.16 L376.44 742.63 L379.76 743.09 L383.11 743.54 L386.46 743.98 L389.84 744.41 L393.22 744.82 L396.63 745.23 L400.04 745.63 L403.47 746.01 L406.92 746.39 L410.38 746.75 L413.86 747.11 L417.34 747.46 L420.85 747.80 L424.37 748.12 L427.90 748.44 L431.45 748.76 L435.01 749.06 L438.58 749.35 L442.17 749.64 L445.78 749.92 L449.40 750.19 L453.03 750.45 L456.68 750.71 L460.34 750.96 L464.01 751.20 L467.70 751.44" fill="none" stroke="#2c6e2c" stroke-width="2.0" stroke-linejoin="round"/>
<path d="M100.45 576.20 L100.56 576.37 L100.78 576.70 L101.09 577.16 L101.46 577.72 L101.90 578.37 L102.39 579.10 L102.93 579.90 L103.52 580.77 L104.16 581.71 L104.84 582.70 L105.57 583.75 L106.33 584.85 L107.13 585.99 L107.98 587.19 L108.85 588.43 L109.77 589.71 L110.72 591.03 L111.70 592.38 L112.72 593.77 L113.77 595.19 L114.85 596.65 L115.96 598.13 L117.10 599.63 L118.28 601.17 L119.48 602.72 L120.71 604.30 L121.97 605.90 L123.26 607.52 L124.58 609.15 L125.93 610.80 L127.30 612.47 L128.70 614.15 L130.12 615.84 L131.57 617.54 L133.05 619.25 L134.55 620.97 L136.08 622.69 L137.64 624.43 L139.21 626.16 L140.82 627.90 L142.44 629.65 L144.09 631.39 L145.77 633.14 L147.47 634.89 L149.19 636.63 L150.93 638.38 L152.70 640.12 L154.49 641.86 L156.30 643.59 L158.14 645.32 L159.99 647.04 L161.87 648.76 L163.77 650.47 L165.70 652.17 L167.64 653.87 L169.61 655.56 L171.59 657.23 L173.60 658.90 L175.63 660.55 L177.68 662.20 L179.75 663.83 L181.84 665.45 L183.95 667.06 L186.08 668.66 L188.23 670.24 L190.40 671.81 L192.59 673.37 L194.80 674.91 L197.03 676.43 L199.28 677.94 L201.55 679.44 L203.84 680.92 L206.14 682.39 L208.47 683.84 L210.81 685.27 L213.18 686.69 L215.56 688.09 L217.96 689.47 L220.38 690.84 L222.82 692.19 L225.28 693.52 L227.75 694.84 L230.24 696.14 L232.75 697.42 L235.28 698.68 L237.83 699.93 L240.39 701.16 L242.98 702.37 L245.58 703.56 L248.20 704.74 L250.83 705.90 L253.48 707.04 L256.15 708.16 L258.84 709.27 L261.55 710.36 L264.27 711.43 L267.01 712.48 L269.76 713.52 L272.53 714.54 L275.32 715.54 L278.13 716.53 L280.95 717.50 L283.79 718.45 L286.65 719.38 L289.52 720.30 L292.41 721.20 L295.32 722.09 L298.24 722.96 L301.18 723.81 L304.13 724.65 L307.10 725.47 L310.09 726.28 L313.09 727.07 L316.11 727.84 L319.15 728.60 L322.20 729.35 L325.26 730.08 L328.35 730.80 L331.44 731.50 L334.56 732.18 L337.69 732.86 L340.83 733.52 L343.99 734.16 L347.17 734.79 L350.36 735.41 L353.57 736.02 L356.79 736.61 L360.02 737.19 L363.28 737.75 L366.54 738.31 L369.83 738.85 L373.12 739.38 L376.44 739.90 L379.76 740.40 L383.11 740.90 L386.46 741.38 L389.84 741.85 L393.22 742.31 L396.63 742.76 L400.04 743.20 L403.47 743.63 L406.92 744.05 L410.38 744.46 L413.86 744.86 L417.34 745.25 L420.85 745.62 L424.37 746.00 L427.90 746.36 L431.45 746.71 L435.01 747.05 L438.58 747.39 L442.17 747.71 L445.78 748.03 L449.40 748.34 L453.03 748.64 L456.68 748.94 L460.34 749.22 L464.01 749.50 L467.70 749.77" fill="none" stroke="#1a9ed3" stroke-width="2.1" stroke-linecap="round" stroke-dasharray="0.9 6.0"/>
<path d="M581.50 514.70V855.50H951.00" fill="none" stroke="#a2a2a2" stroke-width="1"/>
<path d="M578.00 855.50H581.50" stroke="#a2a2a2" stroke-width="1"/>
<text x="565.40" y="862.00" text-anchor="middle" class="tk">0</text>
<path d="M578.00 798.50H581.50" stroke="#a2a2a2" stroke-width="1"/>
<text x="565.40" y="804.25" text-anchor="middle" class="tk">5</text>
<path d="M578.00 741.50H581.50" stroke="#a2a2a2" stroke-width="1"/>
<text x="565.40" y="747.50" text-anchor="middle" class="tk">10</text>
<path d="M578.00 684.50H581.50" stroke="#a2a2a2" stroke-width="1"/>
<text x="565.40" y="690.75" text-anchor="middle" class="tk">15</text>
<path d="M578.00 628.50H581.50" stroke="#a2a2a2" stroke-width="1"/>
<text x="565.40" y="634.00" text-anchor="middle" class="tk">20</text>
<path d="M578.00 571.50H581.50" stroke="#a2a2a2" stroke-width="1"/>
<text x="565.40" y="577.25" text-anchor="middle" class="tk">25</text>
<path d="M578.00 514.50H581.50" stroke="#a2a2a2" stroke-width="1"/>
<text x="565.40" y="520.50" text-anchor="middle" class="tk">30</text>
<path d="M581.50 855.50V858.50" stroke="#a2a2a2" stroke-width="1"/>
<text x="584.40" y="876.00" text-anchor="middle" class="tk">0%</text>
<path d="M673.50 855.50V858.50" stroke="#a2a2a2" stroke-width="1"/>
<text x="675.30" y="876.00" text-anchor="middle" class="tk">25%</text>
<path d="M766.50 855.50V858.50" stroke="#a2a2a2" stroke-width="1"/>
<text x="769.20" y="876.00" text-anchor="middle" class="tk">50%</text>
<path d="M858.50 855.50V858.50" stroke="#a2a2a2" stroke-width="1"/>
<text x="861.80" y="876.00" text-anchor="middle" class="tk">75%</text>
<path d="M951.50 855.50V858.50" stroke="#a2a2a2" stroke-width="1"/>
<text x="952.00" y="876.00" text-anchor="middle" class="tk">100%</text>
<text x="767.20" y="896.50" text-anchor="middle" class="at">Percentage of full label dose</text>
<text transform="translate(548.20 692.95) rotate(-90)" text-anchor="middle" class="at">% disease</text>
<text x="528.10" y="916.40" class="cap" style="font-size:14.47px">Figure 5. Fusarium</text>
<path d="M581.20 535.30 L581.31 535.73 L581.54 536.59 L581.84 537.76 L582.22 539.19 L582.66 540.84 L583.15 542.68 L583.70 544.70 L584.29 546.87 L584.94 549.19 L585.62 551.63 L586.35 554.20 L587.12 556.87 L587.93 559.63 L588.78 562.48 L589.66 565.41 L590.58 568.41 L591.54 571.47 L592.53 574.58 L593.55 577.74 L594.60 580.93 L595.69 584.16 L596.81 587.41 L597.96 590.68 L599.15 593.97 L600.36 597.27 L601.60 600.57 L602.87 603.86 L604.17 607.16 L605.49 610.44 L606.85 613.71 L608.23 616.96 L609.64 620.18 L611.07 623.39 L612.53 626.56 L614.02 629.71 L615.53 632.82 L617.07 635.89 L618.63 638.92 L620.22 641.91 L621.84 644.86 L623.47 647.77 L625.14 650.63 L626.82 653.44 L628.53 656.20 L630.26 658.91 L632.02 661.56 L633.80 664.17 L635.60 666.72 L637.42 669.22 L639.27 671.66 L641.14 674.05 L643.03 676.39 L644.95 678.66 L646.88 680.89 L648.84 683.05 L650.82 685.17 L652.82 687.22 L654.84 689.22 L656.88 691.17 L658.94 693.07 L661.03 694.91 L663.13 696.69 L665.25 698.43 L667.40 700.11 L669.56 701.74 L671.75 703.32 L673.95 704.85 L676.18 706.33 L678.42 707.77 L680.69 709.15 L682.97 710.49 L685.27 711.79 L687.60 713.04 L689.94 714.25 L692.30 715.41 L694.68 716.54 L697.08 717.62 L699.49 718.66 L701.93 719.67 L704.39 720.64 L706.86 721.57 L709.35 722.46 L711.86 723.32 L714.39 724.15 L716.93 724.94 L719.50 725.71 L722.08 726.44 L724.68 727.14 L727.30 727.81 L729.93 728.46 L732.58 729.08 L735.25 729.67 L737.94 730.24 L740.65 730.78 L743.37 731.30 L746.11 731.80 L748.87 732.27 L751.64 732.72 L754.43 733.16 L757.24 733.57 L760.07 733.97 L762.91 734.34 L765.77 734.70 L768.64 735.04 L771.53 735.37 L774.44 735.68 L777.37 735.98 L780.31 736.26 L783.27 736.53 L786.24 736.78 L789.23 737.03 L792.24 737.26 L795.26 737.48 L798.30 737.68 L801.36 737.88 L804.43 738.07 L807.51 738.25 L810.62 738.42 L813.74 738.58 L816.87 738.73 L820.02 738.87 L823.19 739.01 L826.37 739.14 L829.56 739.26 L832.78 739.38 L836.00 739.49 L839.25 739.59 L842.51 739.69 L845.78 739.78 L849.07 739.87 L852.37 739.95 L855.69 740.03 L859.03 740.10 L862.38 740.17 L865.74 740.24 L869.12 740.30 L872.52 740.36 L875.93 740.41 L879.35 740.47 L882.79 740.51 L886.25 740.56 L889.71 740.60 L893.20 740.64 L896.70 740.68 L900.21 740.72 L903.74 740.75 L907.28 740.78 L910.83 740.81 L914.41 740.84 L917.99 740.87 L921.59 740.89 L925.20 740.92 L928.83 740.94 L932.47 740.96 L936.13 740.98 L939.80 741.00 L943.49 741.01 L947.19 741.03 L950.90 741.04" fill="none" stroke="#92c31e" stroke-width="2.0" stroke-linejoin="round"/>
<path d="M581.20 535.30 L581.32 535.39 L581.55 535.58 L581.88 535.84 L582.27 536.16 L582.73 536.52 L583.25 536.93 L583.83 537.39 L584.46 537.88 L585.13 538.42 L585.85 538.98 L586.62 539.59 L587.43 540.22 L588.28 540.88 L589.17 541.57 L590.10 542.29 L591.07 543.04 L592.08 543.81 L593.12 544.61 L594.19 545.43 L595.30 546.27 L596.45 547.14 L597.63 548.03 L598.84 548.93 L600.08 549.86 L601.36 550.81 L602.66 551.77 L604.00 552.75 L605.36 553.75 L606.76 554.77 L608.18 555.80 L609.64 556.84 L611.12 557.90 L612.63 558.98 L614.17 560.07 L615.73 561.17 L617.32 562.28 L618.94 563.41 L620.59 564.54 L622.26 565.69 L623.96 566.85 L625.68 568.02 L627.43 569.19 L629.20 570.38 L631.00 571.58 L632.82 572.78 L634.67 573.99 L636.54 575.21 L638.44 576.43 L640.36 577.67 L642.30 578.91 L644.27 580.15 L646.26 581.40 L648.27 582.65 L650.31 583.91 L652.37 585.18 L654.45 586.44 L656.56 587.71 L658.68 588.99 L660.83 590.26 L663.00 591.54 L665.19 592.83 L667.41 594.11 L669.64 595.40 L671.90 596.68 L674.18 597.97 L676.48 599.26 L678.80 600.55 L681.14 601.84 L683.50 603.13 L685.88 604.42 L688.28 605.71 L690.71 606.99 L693.15 608.28 L695.62 609.57 L698.10 610.85 L700.60 612.13 L703.13 613.41 L705.67 614.69 L708.23 615.97 L710.82 617.24 L713.42 618.51 L716.04 619.78 L718.68 621.04 L721.34 622.30 L724.02 623.56 L726.72 624.81 L729.43 626.06 L732.17 627.30 L734.92 628.55 L737.70 629.78 L740.49 631.01 L743.30 632.24 L746.13 633.46 L748.97 634.68 L751.84 635.89 L754.72 637.09 L757.62 638.29 L760.54 639.49 L763.48 640.67 L766.43 641.86 L769.40 643.03 L772.39 644.20 L775.40 645.37 L778.43 646.52 L781.47 647.67 L784.53 648.82 L787.61 649.96 L790.70 651.09 L793.82 652.21 L796.95 653.33 L800.09 654.44 L803.26 655.54 L806.44 656.64 L809.63 657.72 L812.85 658.80 L816.08 659.88 L819.33 660.94 L822.59 662.00 L825.87 663.05 L829.17 664.09 L832.49 665.13 L835.82 666.16 L839.17 667.18 L842.53 668.19 L845.91 669.19 L849.31 670.19 L852.72 671.18 L856.15 672.16 L859.59 673.13 L863.05 674.09 L866.53 675.05 L870.02 675.99 L873.53 676.93 L877.06 677.86 L880.60 678.79 L884.15 679.70 L887.73 680.61 L891.31 681.51 L894.92 682.40 L898.54 683.28 L902.17 684.15 L905.82 685.02 L909.49 685.88 L913.17 686.73 L916.86 687.57 L920.57 688.40 L924.30 689.22 L928.04 690.04 L931.80 690.85 L935.57 691.65 L939.36 692.44 L943.16 693.22 L946.98 694.00 L950.81 694.77 L954.66 695.53 L958.52 696.28 L962.40 697.02 L966.29 697.76 L970.20 698.49" fill="none" stroke="#e32112" stroke-width="2.0" stroke-linejoin="round"/>
<path d="M581.20 535.30 L581.31 535.37 L581.54 535.51 L581.84 535.70 L582.22 535.93 L582.66 536.20 L583.15 536.50 L583.70 536.83 L584.30 537.20 L584.94 537.59 L585.62 538.01 L586.35 538.45 L587.12 538.92 L587.93 539.41 L588.78 539.93 L589.66 540.46 L590.58 541.02 L591.54 541.59 L592.53 542.19 L593.55 542.80 L594.61 543.44 L595.70 544.09 L596.82 544.75 L597.97 545.44 L599.15 546.14 L600.36 546.85 L601.60 547.59 L602.87 548.33 L604.17 549.09 L605.50 549.87 L606.85 550.66 L608.23 551.46 L609.64 552.28 L611.08 553.11 L612.54 553.95 L614.03 554.81 L615.54 555.67 L617.08 556.55 L618.64 557.44 L620.23 558.34 L621.85 559.25 L623.48 560.17 L625.15 561.11 L626.83 562.05 L628.54 563.00 L630.28 563.96 L632.03 564.93 L633.81 565.91 L635.61 566.90 L637.44 567.90 L639.29 568.90 L641.16 569.91 L643.05 570.93 L644.96 571.96 L646.90 573.00 L648.86 574.04 L650.84 575.09 L652.84 576.15 L654.86 577.21 L656.90 578.28 L658.96 579.36 L661.05 580.44 L663.15 581.53 L665.28 582.62 L667.42 583.72 L669.59 584.82 L671.77 585.93 L673.98 587.04 L676.20 588.16 L678.45 589.28 L680.71 590.41 L683.00 591.54 L685.30 592.68 L687.63 593.81 L689.97 594.96 L692.33 596.10 L694.71 597.25 L697.11 598.40 L699.53 599.56 L701.96 600.72 L704.42 601.88 L706.89 603.04 L709.38 604.21 L711.89 605.37 L714.42 606.54 L716.97 607.71 L719.53 608.89 L722.12 610.06 L724.72 611.24 L727.34 612.42 L729.97 613.60 L732.63 614.78 L735.30 615.96 L737.98 617.14 L740.69 618.32 L743.41 619.51 L746.15 620.69 L748.91 621.88 L751.69 623.06 L754.48 624.25 L757.29 625.43 L760.11 626.61 L762.96 627.80 L765.82 628.98 L768.69 630.17 L771.59 631.35 L774.50 632.53 L777.42 633.71 L780.36 634.89 L783.32 636.07 L786.30 637.25 L789.29 638.43 L792.30 639.61 L795.32 640.78 L798.36 641.95 L801.42 643.13 L804.49 644.30 L807.58 645.47 L810.68 646.63 L813.80 647.80 L816.93 648.96 L820.08 650.12 L823.25 651.28 L826.43 652.43 L829.63 653.59 L832.84 654.74 L836.07 655.89 L839.32 657.03 L842.58 658.18 L845.85 659.32 L849.14 660.46 L852.45 661.59 L855.77 662.72 L859.10 663.85 L862.45 664.98 L865.82 666.10 L869.20 667.22 L872.60 668.34 L876.01 669.45 L879.43 670.56 L882.87 671.67 L886.33 672.77 L889.80 673.87 L893.28 674.97 L896.78 676.06 L900.30 677.15 L903.82 678.23 L907.37 679.31 L910.92 680.39 L914.50 681.46 L918.08 682.53 L921.68 683.60 L925.30 684.66 L928.93 685.71 L932.57 686.77 L936.23 687.81 L939.90 688.86 L943.59 689.90 L947.29 690.93 L951.00 691.96" fill="none" stroke="#5a4133" stroke-width="2.0" stroke-linejoin="round"/>
<path d="M581.20 535.30 L581.31 535.38 L581.53 535.53 L581.84 535.74 L582.21 536.00 L582.65 536.30 L583.14 536.64 L583.68 537.01 L584.27 537.42 L584.91 537.85 L585.59 538.32 L586.32 538.81 L587.08 539.33 L587.88 539.88 L588.73 540.45 L589.60 541.04 L590.52 541.65 L591.47 542.29 L592.45 542.95 L593.47 543.63 L594.52 544.32 L595.60 545.04 L596.71 545.77 L597.86 546.53 L599.03 547.29 L600.23 548.08 L601.46 548.88 L602.73 549.70 L604.02 550.53 L605.33 551.38 L606.68 552.24 L608.05 553.11 L609.45 554.00 L610.88 554.90 L612.33 555.81 L613.81 556.74 L615.31 557.68 L616.84 558.62 L618.39 559.58 L619.97 560.55 L621.57 561.53 L623.20 562.52 L624.85 563.52 L626.52 564.53 L628.22 565.54 L629.94 566.57 L631.69 567.60 L633.46 568.64 L635.25 569.69 L637.06 570.75 L638.89 571.81 L640.75 572.88 L642.63 573.95 L644.53 575.04 L646.46 576.12 L648.40 577.22 L650.36 578.32 L652.35 579.42 L654.36 580.53 L656.39 581.64 L658.44 582.76 L660.51 583.88 L662.60 585.01 L664.71 586.14 L666.84 587.27 L668.99 588.40 L671.16 589.54 L673.35 590.68 L675.56 591.83 L677.79 592.97 L680.04 594.12 L682.31 595.27 L684.60 596.42 L686.91 597.58 L689.23 598.73 L691.58 599.89 L693.94 601.04 L696.33 602.20 L698.73 603.36 L701.15 604.52 L703.59 605.68 L706.04 606.84 L708.52 607.99 L711.01 609.15 L713.52 610.31 L716.05 611.47 L718.60 612.63 L721.16 613.78 L723.75 614.94 L726.35 616.09 L728.97 617.24 L731.60 618.39 L734.25 619.54 L736.92 620.69 L739.61 621.84 L742.32 622.98 L745.04 624.12 L747.78 625.26 L750.54 626.40 L753.31 627.54 L756.10 628.67 L758.91 629.80 L761.73 630.93 L764.57 632.05 L767.43 633.17 L770.30 634.29 L773.19 635.40 L776.09 636.52 L779.02 637.63 L781.96 638.73 L784.91 639.83 L787.88 640.93 L790.87 642.03 L793.87 643.12 L796.89 644.20 L799.93 645.29 L802.98 646.37 L806.04 647.44 L809.13 648.51 L812.23 649.58 L815.34 650.64 L818.47 651.70 L821.61 652.76 L824.78 653.81 L827.95 654.85 L831.14 655.89 L834.35 656.93 L837.57 657.96 L840.81 658.99 L844.06 660.01 L847.33 661.03 L850.61 662.04 L853.91 663.05 L857.22 664.05 L860.55 665.05 L863.90 666.04 L867.25 667.03 L870.63 668.02 L874.01 668.99 L877.42 669.97 L880.83 670.94 L884.27 671.90 L887.71 672.86 L891.17 673.81 L894.65 674.76 L898.14 675.70 L901.64 676.64 L905.16 677.57 L908.69 678.50 L912.24 679.42 L915.80 680.34 L919.38 681.25 L922.97 682.15 L926.58 683.05 L930.19 683.95 L933.83 684.84 L937.47 685.73 L941.14 686.61 L944.81 687.48 L948.50 688.35" fill="none" stroke="#b02a34" stroke-width="2.1" stroke-linecap="round" stroke-dasharray="0.9 6.0"/>
<path d="M100.50 971.00V1309.50H467.00" fill="none" stroke="#a2a2a2" stroke-width="1"/>
<path d="M97.00 1309.50H100.50" stroke="#a2a2a2" stroke-width="1"/>
<text x="84.40" y="1316.20" text-anchor="middle" class="tk">0</text>
<path d="M97.00 1255.50H100.50" stroke="#a2a2a2" stroke-width="1"/>
<text x="84.40" y="1261.00" text-anchor="middle" class="tk">10</text>
<path d="M97.00 1198.50H100.50" stroke="#a2a2a2" stroke-width="1"/>
<text x="84.40" y="1204.00" text-anchor="middle" class="tk">20</text>
<path d="M97.00 1141.50H100.50" stroke="#a2a2a2" stroke-width="1"/>
<text x="84.40" y="1146.80" text-anchor="middle" class="tk">30</text>
<path d="M97.00 1085.50H100.50" stroke="#a2a2a2" stroke-width="1"/>
<text x="84.40" y="1090.80" text-anchor="middle" class="tk">40</text>
<path d="M97.00 1028.50H100.50" stroke="#a2a2a2" stroke-width="1"/>
<text x="84.40" y="1034.30" text-anchor="middle" class="tk">50</text>
<path d="M97.00 971.50H100.50" stroke="#a2a2a2" stroke-width="1"/>
<text x="84.40" y="976.80" text-anchor="middle" class="tk">60</text>
<path d="M100.50 1309.50V1312.50" stroke="#a2a2a2" stroke-width="1"/>
<text x="103.40" y="1330.20" text-anchor="middle" class="tk">0%</text>
<path d="M192.50 1309.50V1312.50" stroke="#a2a2a2" stroke-width="1"/>
<text x="193.55" y="1330.20" text-anchor="middle" class="tk">25%</text>
<path d="M283.50 1309.50V1312.50" stroke="#a2a2a2" stroke-width="1"/>
<text x="286.70" y="1330.20" text-anchor="middle" class="tk">50%</text>
<path d="M375.50 1309.50V1312.50" stroke="#a2a2a2" stroke-width="1"/>
<text x="378.55" y="1330.20" text-anchor="middle" class="tk">75%</text>
<path d="M467.50 1309.50V1312.50" stroke="#a2a2a2" stroke-width="1"/>
<text x="468.00" y="1330.20" text-anchor="middle" class="tk">100%</text>
<text x="284.70" y="1350.70" text-anchor="middle" class="at">Percentage of full label dose</text>
<text transform="translate(67.20 1148.20) rotate(-90)" text-anchor="middle" class="at">% disease</text>
<text x="48.10" y="1372.00" class="cap" style="font-size:14.55px">Figure 3. Yellow rust</text>
<path d="M100.45 1019.10 L100.56 1019.55 L100.78 1020.47 L101.09 1021.71 L101.46 1023.22 L101.89 1024.96 L102.38 1026.90 L102.93 1029.02 L103.51 1031.30 L104.15 1033.73 L104.83 1036.29 L105.55 1038.96 L106.31 1041.74 L107.11 1044.61 L107.95 1047.57 L108.83 1050.59 L109.74 1053.68 L110.69 1056.82 L111.67 1060.00 L112.68 1063.22 L113.73 1066.47 L114.80 1069.74 L115.91 1073.02 L117.05 1076.31 L118.22 1079.60 L119.42 1082.89 L120.65 1086.17 L121.91 1089.43 L123.19 1092.68 L124.51 1095.90 L125.85 1099.09 L127.22 1102.25 L128.61 1105.38 L130.03 1108.46 L131.48 1111.51 L132.95 1114.51 L134.45 1117.46 L135.98 1120.37 L137.52 1123.22 L139.10 1126.02 L140.70 1128.77 L142.32 1131.46 L143.96 1134.09 L145.63 1136.66 L147.33 1139.18 L149.04 1141.63 L150.78 1144.02 L152.54 1146.36 L154.33 1148.63 L156.13 1150.84 L157.96 1152.99 L159.82 1155.08 L161.69 1157.11 L163.58 1159.07 L165.50 1160.98 L167.44 1162.83 L169.40 1164.62 L171.38 1166.35 L173.38 1168.02 L175.40 1169.64 L177.45 1171.20 L179.51 1172.71 L181.59 1174.17 L183.70 1175.57 L185.82 1176.92 L187.97 1178.22 L190.13 1179.47 L192.31 1180.68 L194.52 1181.83 L196.74 1182.94 L198.98 1184.01 L201.24 1185.03 L203.53 1186.01 L205.83 1186.96 L208.14 1187.86 L210.48 1188.72 L212.84 1189.54 L215.21 1190.33 L217.61 1191.09 L220.02 1191.81 L222.45 1192.50 L224.90 1193.16 L227.37 1193.78 L229.85 1194.38 L232.36 1194.95 L234.88 1195.50 L237.42 1196.01 L239.98 1196.50 L242.55 1196.97 L245.14 1197.42 L247.75 1197.84 L250.38 1198.24 L253.03 1198.62 L255.69 1198.99 L258.37 1199.33 L261.06 1199.66 L263.78 1199.96 L266.51 1200.26 L269.26 1200.53 L272.02 1200.80 L274.80 1201.04 L277.60 1201.28 L280.41 1201.50 L283.24 1201.71 L286.09 1201.91 L288.96 1202.09 L291.84 1202.27 L294.73 1202.44 L297.65 1202.59 L300.58 1202.74 L303.52 1202.88 L306.48 1203.01 L309.46 1203.13 L312.46 1203.25 L315.47 1203.36 L318.49 1203.46 L321.53 1203.56 L324.59 1203.65 L327.66 1203.74 L330.75 1203.82 L333.86 1203.89 L336.98 1203.96 L340.11 1204.03 L343.26 1204.09 L346.43 1204.15 L349.61 1204.20 L352.81 1204.25 L356.02 1204.30 L359.25 1204.34 L362.49 1204.39 L365.75 1204.42 L369.02 1204.46 L372.31 1204.50 L375.61 1204.53 L378.93 1204.56 L382.26 1204.58 L385.61 1204.61 L388.97 1204.63 L392.35 1204.66 L395.74 1204.68 L399.15 1204.70 L402.57 1204.71 L406.00 1204.73 L409.45 1204.75 L412.92 1204.76 L416.40 1204.78 L419.89 1204.79 L423.40 1204.80 L426.92 1204.81 L430.46 1204.82 L434.01 1204.83 L437.57 1204.84 L441.15 1204.85 L444.74 1204.85 L448.35 1204.86 L451.97 1204.87 L455.61 1204.87 L459.26 1204.88 L462.92 1204.88 L466.60 1204.89" fill="none" stroke="#923d0a" stroke-width="2.0" stroke-linejoin="round"/>
<path d="M100.45 1019.10 L100.56 1019.42 L100.78 1020.08 L101.09 1020.96 L101.46 1022.04 L101.89 1023.29 L102.38 1024.69 L102.93 1026.22 L103.51 1027.88 L104.15 1029.65 L104.83 1031.53 L105.55 1033.50 L106.31 1035.56 L107.11 1037.70 L107.95 1039.91 L108.83 1042.19 L109.74 1044.53 L110.69 1046.93 L111.67 1049.38 L112.68 1051.88 L113.73 1054.41 L114.80 1056.98 L115.91 1059.59 L117.05 1062.22 L118.22 1064.87 L119.42 1067.55 L120.65 1070.24 L121.91 1072.94 L123.19 1075.65 L124.51 1078.37 L125.85 1081.08 L127.22 1083.80 L128.61 1086.52 L130.03 1089.23 L131.48 1091.93 L132.95 1094.61 L134.45 1097.29 L135.98 1099.95 L137.52 1102.59 L139.10 1105.21 L140.70 1107.81 L142.32 1110.39 L143.96 1112.94 L145.63 1115.47 L147.33 1117.97 L149.04 1120.44 L150.78 1122.88 L152.54 1125.28 L154.33 1127.66 L156.13 1130.00 L157.96 1132.30 L159.82 1134.57 L161.69 1136.81 L163.58 1139.00 L165.50 1141.16 L167.44 1143.29 L169.40 1145.37 L171.38 1147.42 L173.38 1149.42 L175.40 1151.39 L177.45 1153.32 L179.51 1155.21 L181.59 1157.06 L183.70 1158.87 L185.82 1160.64 L187.97 1162.37 L190.13 1164.06 L192.31 1165.71 L194.52 1167.33 L196.74 1168.90 L198.98 1170.44 L201.24 1171.94 L203.53 1173.40 L205.83 1174.83 L208.14 1176.22 L210.48 1177.57 L212.84 1178.88 L215.21 1180.16 L217.61 1181.41 L220.02 1182.62 L222.45 1183.79 L224.90 1184.93 L227.37 1186.04 L229.85 1187.12 L232.36 1188.17 L234.88 1189.18 L237.42 1190.16 L239.98 1191.12 L242.55 1192.04 L245.14 1192.94 L247.75 1193.80 L250.38 1194.64 L253.03 1195.45 L255.69 1196.24 L258.37 1197.00 L261.06 1197.74 L263.78 1198.45 L266.51 1199.13 L269.26 1199.79 L272.02 1200.43 L274.80 1201.05 L277.60 1201.65 L280.41 1202.22 L283.24 1202.78 L286.09 1203.31 L288.96 1203.83 L291.84 1204.33 L294.73 1204.80 L297.65 1205.26 L300.58 1205.71 L303.52 1206.14 L306.48 1206.55 L309.46 1206.94 L312.46 1207.32 L315.47 1207.69 L318.49 1208.04 L321.53 1208.37 L324.59 1208.70 L327.66 1209.01 L330.75 1209.31 L333.86 1209.59 L336.98 1209.87 L340.11 1210.13 L343.26 1210.38 L346.43 1210.63 L349.61 1210.86 L352.81 1211.08 L356.02 1211.29 L359.25 1211.50 L362.49 1211.69 L365.75 1211.88 L369.02 1212.06 L372.31 1212.23 L375.61 1212.40 L378.93 1212.55 L382.26 1212.70 L385.61 1212.84 L388.97 1212.98 L392.35 1213.11 L395.74 1213.24 L399.15 1213.35 L402.57 1213.47 L406.00 1213.58 L409.45 1213.68 L412.92 1213.78 L416.40 1213.87 L419.89 1213.96 L423.40 1214.05 L426.92 1214.13 L430.46 1214.21 L434.01 1214.28 L437.57 1214.35 L441.15 1214.42 L444.74 1214.48 L448.35 1214.54 L451.97 1214.60 L455.61 1214.65 L459.26 1214.71 L462.92 1214.76 L466.60 1214.80" fill="none" stroke="#5a4133" stroke-width="2.0" stroke-linejoin="round"/>
<path d="M100.45 1019.10 L100.56 1019.31 L100.78 1019.75 L101.09 1020.33 L101.46 1021.05 L101.89 1021.88 L102.38 1022.82 L102.93 1023.85 L103.51 1024.96 L104.15 1026.16 L104.83 1027.43 L105.55 1028.77 L106.31 1030.18 L107.11 1031.65 L107.95 1033.18 L108.83 1034.76 L109.74 1036.39 L110.69 1038.07 L111.67 1039.80 L112.68 1041.57 L113.73 1043.38 L114.80 1045.23 L115.91 1047.11 L117.05 1049.03 L118.22 1050.97 L119.42 1052.95 L120.65 1054.95 L121.91 1056.97 L123.19 1059.02 L124.51 1061.08 L125.85 1063.17 L127.22 1065.27 L128.61 1067.38 L130.03 1069.51 L131.48 1071.65 L132.95 1073.80 L134.45 1075.96 L135.98 1078.13 L137.52 1080.30 L139.10 1082.47 L140.70 1084.65 L142.32 1086.82 L143.96 1089.00 L145.63 1091.18 L147.33 1093.35 L149.04 1095.52 L150.78 1097.69 L152.54 1099.85 L154.33 1102.00 L156.13 1104.15 L157.96 1106.28 L159.82 1108.41 L161.69 1110.53 L163.58 1112.63 L165.50 1114.73 L167.44 1116.81 L169.40 1118.88 L171.38 1120.93 L173.38 1122.97 L175.40 1124.99 L177.45 1127.00 L179.51 1128.98 L181.59 1130.96 L183.70 1132.91 L185.82 1134.85 L187.97 1136.76 L190.13 1138.66 L192.31 1140.54 L194.52 1142.40 L196.74 1144.24 L198.98 1146.05 L201.24 1147.85 L203.53 1149.62 L205.83 1151.38 L208.14 1153.11 L210.48 1154.82 L212.84 1156.51 L215.21 1158.17 L217.61 1159.81 L220.02 1161.43 L222.45 1163.03 L224.90 1164.61 L227.37 1166.16 L229.85 1167.69 L232.36 1169.19 L234.88 1170.68 L237.42 1172.14 L239.98 1173.57 L242.55 1174.99 L245.14 1176.38 L247.75 1177.75 L250.38 1179.09 L253.03 1180.41 L255.69 1181.71 L258.37 1182.99 L261.06 1184.25 L263.78 1185.48 L266.51 1186.69 L269.26 1187.88 L272.02 1189.05 L274.80 1190.19 L277.60 1191.32 L280.41 1192.42 L283.24 1193.50 L286.09 1194.56 L288.96 1195.60 L291.84 1196.62 L294.73 1197.61 L297.65 1198.59 L300.58 1199.55 L303.52 1200.49 L306.48 1201.41 L309.46 1202.31 L312.46 1203.19 L315.47 1204.05 L318.49 1204.89 L321.53 1205.72 L324.59 1206.52 L327.66 1207.31 L330.75 1208.08 L333.86 1208.84 L336.98 1209.57 L340.11 1210.29 L343.26 1211.00 L346.43 1211.68 L349.61 1212.36 L352.81 1213.01 L356.02 1213.65 L359.25 1214.28 L362.49 1214.89 L365.75 1215.48 L369.02 1216.06 L372.31 1216.63 L375.61 1217.18 L378.93 1217.72 L382.26 1218.24 L385.61 1218.75 L388.97 1219.25 L392.35 1219.74 L395.74 1220.21 L399.15 1220.67 L402.57 1221.12 L406.00 1221.56 L409.45 1221.99 L412.92 1222.40 L416.40 1222.81 L419.89 1223.20 L423.40 1223.58 L426.92 1223.95 L430.46 1224.32 L434.01 1224.67 L437.57 1225.01 L441.15 1225.34 L444.74 1225.67 L448.35 1225.98 L451.97 1226.29 L455.61 1226.59 L459.26 1226.87 L462.92 1227.16 L466.60 1227.43" fill="none" stroke="#2c6e2c" stroke-width="2.0" stroke-linejoin="round"/>
<path d="M100.45 1019.10 L100.56 1019.36 L100.78 1019.89 L101.09 1020.60 L101.46 1021.48 L101.89 1022.49 L102.38 1023.62 L102.93 1024.87 L103.51 1026.21 L104.15 1027.65 L104.83 1029.17 L105.55 1030.78 L106.31 1032.45 L107.11 1034.20 L107.95 1036.00 L108.83 1037.87 L109.74 1039.79 L110.69 1041.75 L111.67 1043.76 L112.68 1045.81 L113.73 1047.90 L114.80 1050.02 L115.91 1052.17 L117.05 1054.35 L118.22 1056.55 L119.42 1058.77 L120.65 1061.01 L121.91 1063.26 L123.19 1065.53 L124.51 1067.80 L125.85 1070.08 L127.22 1072.36 L128.61 1074.65 L130.03 1076.94 L131.48 1079.22 L132.95 1081.50 L134.45 1083.77 L135.98 1086.04 L137.52 1088.29 L139.10 1090.53 L140.70 1092.76 L142.32 1094.98 L143.96 1097.18 L145.63 1099.36 L147.33 1101.52 L149.04 1103.67 L150.78 1105.79 L152.54 1107.89 L154.33 1109.97 L156.13 1112.02 L157.96 1114.05 L159.82 1116.05 L161.69 1118.03 L163.58 1119.98 L165.50 1121.90 L167.44 1123.80 L169.40 1125.66 L171.38 1127.50 L173.38 1129.31 L175.40 1131.08 L177.45 1132.83 L179.51 1134.55 L181.59 1136.24 L183.70 1137.89 L185.82 1139.52 L187.97 1141.11 L190.13 1142.67 L192.31 1144.21 L194.52 1145.71 L196.74 1147.18 L198.98 1148.62 L201.24 1150.02 L203.53 1151.40 L205.83 1152.75 L208.14 1154.07 L210.48 1155.35 L212.84 1156.61 L215.21 1157.84 L217.61 1159.04 L220.02 1160.20 L222.45 1161.34 L224.90 1162.46 L227.37 1163.54 L229.85 1164.60 L232.36 1165.63 L234.88 1166.63 L237.42 1167.60 L239.98 1168.55 L242.55 1169.48 L245.14 1170.37 L247.75 1171.25 L250.38 1172.10 L253.03 1172.92 L255.69 1173.72 L258.37 1174.50 L261.06 1175.26 L263.78 1175.99 L266.51 1176.70 L269.26 1177.39 L272.02 1178.06 L274.80 1178.71 L277.60 1179.34 L280.41 1179.94 L283.24 1180.53 L286.09 1181.10 L288.96 1181.66 L291.84 1182.19 L294.73 1182.71 L297.65 1183.21 L300.58 1183.69 L303.52 1184.16 L306.48 1184.61 L309.46 1185.05 L312.46 1185.47 L315.47 1185.88 L318.49 1186.27 L321.53 1186.65 L324.59 1187.02 L327.66 1187.37 L330.75 1187.71 L333.86 1188.04 L336.98 1188.36 L340.11 1188.66 L343.26 1188.96 L346.43 1189.24 L349.61 1189.51 L352.81 1189.78 L356.02 1190.03 L359.25 1190.27 L362.49 1190.51 L365.75 1190.73 L369.02 1190.95 L372.31 1191.16 L375.61 1191.36 L378.93 1191.55 L382.26 1191.73 L385.61 1191.91 L388.97 1192.08 L392.35 1192.25 L395.74 1192.40 L399.15 1192.55 L402.57 1192.70 L406.00 1192.84 L409.45 1192.97 L412.92 1193.10 L416.40 1193.22 L419.89 1193.34 L423.40 1193.45 L426.92 1193.56 L430.46 1193.66 L434.01 1193.76 L437.57 1193.85 L441.15 1193.94 L444.74 1194.03 L448.35 1194.11 L451.97 1194.19 L455.61 1194.26 L459.26 1194.34 L462.92 1194.41 L466.60 1194.47" fill="none" stroke="#93a9b5" stroke-width="2.0" stroke-linejoin="round"/>
<path d="M100.45 1019.10 L100.56 1019.34 L100.78 1019.82 L101.09 1020.46 L101.46 1021.21 L101.89 1022.06 L102.38 1022.99 L102.93 1023.99 L103.51 1025.04 L104.15 1026.15 L104.83 1027.31 L105.55 1028.52 L106.31 1029.77 L107.11 1031.06 L107.95 1032.40 L108.83 1033.78 L109.74 1035.20 L110.69 1036.66 L111.67 1038.15 L112.68 1039.68 L113.73 1041.25 L114.80 1042.84 L115.91 1044.47 L117.05 1046.12 L118.22 1047.80 L119.42 1049.50 L120.65 1051.23 L121.91 1052.98 L123.19 1054.75 L124.51 1056.53 L125.85 1058.33 L127.22 1060.14 L128.61 1061.97 L130.03 1063.81 L131.48 1065.66 L132.95 1067.52 L134.45 1069.38 L135.98 1071.25 L137.52 1073.13 L139.10 1075.01 L140.70 1076.89 L142.32 1078.77 L143.96 1080.66 L145.63 1082.54 L147.33 1084.42 L149.04 1086.30 L150.78 1088.17 L152.54 1090.04 L154.33 1091.90 L156.13 1093.76 L157.96 1095.61 L159.82 1097.45 L161.69 1099.29 L163.58 1101.11 L165.50 1102.92 L167.44 1104.73 L169.40 1106.52 L171.38 1108.30 L173.38 1110.06 L175.40 1111.82 L177.45 1113.55 L179.51 1115.28 L181.59 1116.99 L183.70 1118.68 L185.82 1120.36 L187.97 1122.03 L190.13 1123.67 L192.31 1125.30 L194.52 1126.92 L196.74 1128.51 L198.98 1130.09 L201.24 1131.65 L203.53 1133.19 L205.83 1134.72 L208.14 1136.22 L210.48 1137.71 L212.84 1139.17 L215.21 1140.62 L217.61 1142.05 L220.02 1143.46 L222.45 1144.85 L224.90 1146.22 L227.37 1147.57 L229.85 1148.90 L232.36 1150.21 L234.88 1151.50 L237.42 1152.78 L239.98 1154.03 L242.55 1155.26 L245.14 1156.47 L247.75 1157.66 L250.38 1158.84 L253.03 1159.99 L255.69 1161.12 L258.37 1162.24 L261.06 1163.33 L263.78 1164.41 L266.51 1165.47 L269.26 1166.50 L272.02 1167.52 L274.80 1168.52 L277.60 1169.50 L280.41 1170.47 L283.24 1171.41 L286.09 1172.34 L288.96 1173.25 L291.84 1174.14 L294.73 1175.01 L297.65 1175.87 L300.58 1176.71 L303.52 1177.53 L306.48 1178.33 L309.46 1179.12 L312.46 1179.89 L315.47 1180.64 L318.49 1181.38 L321.53 1182.11 L324.59 1182.81 L327.66 1183.50 L330.75 1184.18 L333.86 1184.84 L336.98 1185.49 L340.11 1186.12 L343.26 1186.74 L346.43 1187.34 L349.61 1187.93 L352.81 1188.51 L356.02 1189.07 L359.25 1189.62 L362.49 1190.16 L365.75 1190.68 L369.02 1191.19 L372.31 1191.69 L375.61 1192.17 L378.93 1192.65 L382.26 1193.11 L385.61 1193.56 L388.97 1194.00 L392.35 1194.43 L395.74 1194.85 L399.15 1195.25 L402.57 1195.65 L406.00 1196.04 L409.45 1196.41 L412.92 1196.78 L416.40 1197.13 L419.89 1197.48 L423.40 1197.82 L426.92 1198.15 L430.46 1198.47 L434.01 1198.78 L437.57 1199.08 L441.15 1199.38 L444.74 1199.66 L448.35 1199.94 L451.97 1200.21 L455.61 1200.48 L459.26 1200.73 L462.92 1200.98 L466.60 1201.22" fill="none" stroke="#1e3a42" stroke-width="2.1" stroke-linecap="round" stroke-dasharray="0.9 6.0"/>
<path d="M100.45 1019.10 L100.56 1019.29 L100.78 1019.68 L101.09 1020.21 L101.46 1020.85 L101.89 1021.60 L102.38 1022.44 L102.93 1023.36 L103.51 1024.37 L104.15 1025.44 L104.83 1026.58 L105.55 1027.78 L106.31 1029.04 L107.11 1030.36 L107.95 1031.72 L108.83 1033.14 L109.74 1034.60 L110.69 1036.10 L111.67 1037.64 L112.68 1039.22 L113.73 1040.84 L114.80 1042.49 L115.91 1044.16 L117.05 1045.87 L118.22 1047.60 L119.42 1049.35 L120.65 1051.13 L121.91 1052.93 L123.19 1054.74 L124.51 1056.57 L125.85 1058.42 L127.22 1060.28 L128.61 1062.15 L130.03 1064.03 L131.48 1065.92 L132.95 1067.82 L134.45 1069.72 L135.98 1071.63 L137.52 1073.54 L139.10 1075.45 L140.70 1077.36 L142.32 1079.27 L143.96 1081.18 L145.63 1083.08 L147.33 1084.99 L149.04 1086.88 L150.78 1088.77 L152.54 1090.66 L154.33 1092.53 L156.13 1094.40 L157.96 1096.26 L159.82 1098.11 L161.69 1099.94 L163.58 1101.77 L165.50 1103.58 L167.44 1105.38 L169.40 1107.17 L171.38 1108.94 L173.38 1110.69 L175.40 1112.43 L177.45 1114.16 L179.51 1115.87 L181.59 1117.56 L183.70 1119.23 L185.82 1120.89 L187.97 1122.53 L190.13 1124.14 L192.31 1125.75 L194.52 1127.33 L196.74 1128.89 L198.98 1130.43 L201.24 1131.96 L203.53 1133.46 L205.83 1134.94 L208.14 1136.40 L210.48 1137.85 L212.84 1139.27 L215.21 1140.67 L217.61 1142.05 L220.02 1143.41 L222.45 1144.74 L224.90 1146.06 L227.37 1147.36 L229.85 1148.63 L232.36 1149.89 L234.88 1151.12 L237.42 1152.33 L239.98 1153.52 L242.55 1154.69 L245.14 1155.84 L247.75 1156.97 L250.38 1158.08 L253.03 1159.17 L255.69 1160.24 L258.37 1161.29 L261.06 1162.31 L263.78 1163.32 L266.51 1164.31 L269.26 1165.28 L272.02 1166.23 L274.80 1167.16 L277.60 1168.07 L280.41 1168.96 L283.24 1169.84 L286.09 1170.69 L288.96 1171.53 L291.84 1172.35 L294.73 1173.15 L297.65 1173.93 L300.58 1174.70 L303.52 1175.45 L306.48 1176.18 L309.46 1176.90 L312.46 1177.60 L315.47 1178.28 L318.49 1178.95 L321.53 1179.60 L324.59 1180.24 L327.66 1180.86 L330.75 1181.47 L333.86 1182.06 L336.98 1182.64 L340.11 1183.20 L343.26 1183.75 L346.43 1184.28 L349.61 1184.81 L352.81 1185.31 L356.02 1185.81 L359.25 1186.29 L362.49 1186.76 L365.75 1187.22 L369.02 1187.67 L372.31 1188.10 L375.61 1188.53 L378.93 1188.94 L382.26 1189.34 L385.61 1189.73 L388.97 1190.11 L392.35 1190.48 L395.74 1190.84 L399.15 1191.18 L402.57 1191.52 L406.00 1191.85 L409.45 1192.17 L412.92 1192.48 L416.40 1192.79 L419.89 1193.08 L423.40 1193.37 L426.92 1193.64 L430.46 1193.91 L434.01 1194.17 L437.57 1194.42 L441.15 1194.67 L444.74 1194.91 L448.35 1195.14 L451.97 1195.36 L455.61 1195.58 L459.26 1195.79 L462.92 1196.00 L466.60 1196.19" fill="none" stroke="#7d705c" stroke-width="2.1" stroke-linecap="round" stroke-dasharray="0.9 6.0"/>
<path d="M100.45 1019.10 L100.56 1019.27 L100.78 1019.62 L101.09 1020.10 L101.46 1020.69 L101.89 1021.36 L102.38 1022.12 L102.93 1022.96 L103.51 1023.86 L104.15 1024.84 L104.83 1025.87 L105.55 1026.96 L106.31 1028.11 L107.11 1029.30 L107.95 1030.55 L108.83 1031.84 L109.74 1033.17 L110.69 1034.54 L111.67 1035.95 L112.68 1037.39 L113.73 1038.87 L114.80 1040.38 L115.91 1041.91 L117.05 1043.48 L118.22 1045.07 L119.42 1046.68 L120.65 1048.32 L121.91 1049.98 L123.19 1051.65 L124.51 1053.34 L125.85 1055.05 L127.22 1056.78 L128.61 1058.51 L130.03 1060.26 L131.48 1062.02 L132.95 1063.78 L134.45 1065.56 L135.98 1067.34 L137.52 1069.13 L139.10 1070.92 L140.70 1072.71 L142.32 1074.51 L143.96 1076.31 L145.63 1078.11 L147.33 1079.90 L149.04 1081.70 L150.78 1083.49 L152.54 1085.28 L154.33 1087.06 L156.13 1088.84 L157.96 1090.62 L159.82 1092.38 L161.69 1094.14 L163.58 1095.90 L165.50 1097.64 L167.44 1099.37 L169.40 1101.09 L171.38 1102.81 L173.38 1104.51 L175.40 1106.20 L177.45 1107.87 L179.51 1109.54 L181.59 1111.19 L183.70 1112.83 L185.82 1114.45 L187.97 1116.06 L190.13 1117.66 L192.31 1119.24 L194.52 1120.80 L196.74 1122.35 L198.98 1123.88 L201.24 1125.40 L203.53 1126.90 L205.83 1128.38 L208.14 1129.84 L210.48 1131.29 L212.84 1132.72 L215.21 1134.13 L217.61 1135.53 L220.02 1136.91 L222.45 1138.26 L224.90 1139.61 L227.37 1140.93 L229.85 1142.23 L232.36 1143.52 L234.88 1144.79 L237.42 1146.04 L239.98 1147.27 L242.55 1148.48 L245.14 1149.67 L247.75 1150.85 L250.38 1152.00 L253.03 1153.14 L255.69 1154.26 L258.37 1155.37 L261.06 1156.45 L263.78 1157.52 L266.51 1158.56 L269.26 1159.59 L272.02 1160.60 L274.80 1161.60 L277.60 1162.57 L280.41 1163.53 L283.24 1164.47 L286.09 1165.40 L288.96 1166.31 L291.84 1167.20 L294.73 1168.07 L297.65 1168.93 L300.58 1169.77 L303.52 1170.59 L306.48 1171.40 L309.46 1172.19 L312.46 1172.96 L315.47 1173.72 L318.49 1174.47 L321.53 1175.20 L324.59 1175.91 L327.66 1176.61 L330.75 1177.29 L333.86 1177.96 L336.98 1178.62 L340.11 1179.26 L343.26 1179.88 L346.43 1180.50 L349.61 1181.10 L352.81 1181.68 L356.02 1182.26 L359.25 1182.82 L362.49 1183.36 L365.75 1183.90 L369.02 1184.42 L372.31 1184.93 L375.61 1185.43 L378.93 1185.92 L382.26 1186.39 L385.61 1186.86 L388.97 1187.31 L392.35 1187.75 L395.74 1188.18 L399.15 1188.60 L402.57 1189.01 L406.00 1189.41 L409.45 1189.80 L412.92 1190.18 L416.40 1190.55 L419.89 1190.91 L423.40 1191.26 L426.92 1191.60 L430.46 1191.94 L434.01 1192.26 L437.57 1192.58 L441.15 1192.89 L444.74 1193.19 L448.35 1193.48 L451.97 1193.76 L455.61 1194.04 L459.26 1194.31 L462.92 1194.57 L466.60 1194.83" fill="none" stroke="#ee8c12" stroke-width="2.0" stroke-linejoin="round"/>
<path d="M100.45 1019.10 L100.56 1019.21 L100.78 1019.44 L101.09 1019.74 L101.46 1020.12 L101.89 1020.56 L102.38 1021.05 L102.93 1021.59 L103.51 1022.18 L104.15 1022.81 L104.83 1023.48 L105.55 1024.20 L106.31 1024.95 L107.11 1025.73 L107.95 1026.55 L108.83 1027.40 L109.74 1028.28 L110.69 1029.20 L111.67 1030.13 L112.68 1031.10 L113.73 1032.09 L114.80 1033.11 L115.91 1034.15 L117.05 1035.21 L118.22 1036.30 L119.42 1037.40 L120.65 1038.53 L121.91 1039.67 L123.19 1040.83 L124.51 1042.01 L125.85 1043.21 L127.22 1044.42 L128.61 1045.65 L130.03 1046.89 L131.48 1048.14 L132.95 1049.41 L134.45 1050.69 L135.98 1051.98 L137.52 1053.28 L139.10 1054.59 L140.70 1055.91 L142.32 1057.24 L143.96 1058.58 L145.63 1059.92 L147.33 1061.28 L149.04 1062.64 L150.78 1064.00 L152.54 1065.37 L154.33 1066.75 L156.13 1068.13 L157.96 1069.51 L159.82 1070.90 L161.69 1072.29 L163.58 1073.69 L165.50 1075.08 L167.44 1076.48 L169.40 1077.88 L171.38 1079.28 L173.38 1080.68 L175.40 1082.08 L177.45 1083.48 L179.51 1084.88 L181.59 1086.28 L183.70 1087.68 L185.82 1089.07 L187.97 1090.46 L190.13 1091.85 L192.31 1093.24 L194.52 1094.62 L196.74 1096.00 L198.98 1097.38 L201.24 1098.75 L203.53 1100.12 L205.83 1101.48 L208.14 1102.84 L210.48 1104.20 L212.84 1105.54 L215.21 1106.89 L217.61 1108.22 L220.02 1109.55 L222.45 1110.87 L224.90 1112.19 L227.37 1113.50 L229.85 1114.80 L232.36 1116.10 L234.88 1117.39 L237.42 1118.67 L239.98 1119.94 L242.55 1121.20 L245.14 1122.46 L247.75 1123.71 L250.38 1124.95 L253.03 1126.18 L255.69 1127.40 L258.37 1128.62 L261.06 1129.82 L263.78 1131.02 L266.51 1132.20 L269.26 1133.38 L272.02 1134.55 L274.80 1135.71 L277.60 1136.85 L280.41 1137.99 L283.24 1139.12 L286.09 1140.24 L288.96 1141.35 L291.84 1142.45 L294.73 1143.54 L297.65 1144.62 L300.58 1145.69 L303.52 1146.75 L306.48 1147.79 L309.46 1148.83 L312.46 1149.86 L315.47 1150.88 L318.49 1151.89 L321.53 1152.88 L324.59 1153.87 L327.66 1154.84 L330.75 1155.81 L333.86 1156.77 L336.98 1157.71 L340.11 1158.64 L343.26 1159.57 L346.43 1160.48 L349.61 1161.39 L352.81 1162.28 L356.02 1163.16 L359.25 1164.03 L362.49 1164.89 L365.75 1165.74 L369.02 1166.59 L372.31 1167.42 L375.61 1168.24 L378.93 1169.05 L382.26 1169.85 L385.61 1170.64 L388.97 1171.42 L392.35 1172.19 L395.74 1172.95 L399.15 1173.70 L402.57 1174.44 L406.00 1175.17 L409.45 1175.89 L412.92 1176.60 L416.40 1177.30 L419.89 1177.99 L423.40 1178.67 L426.92 1179.35 L430.46 1180.01 L434.01 1180.66 L437.57 1181.31 L441.15 1181.94 L444.74 1182.57 L448.35 1183.19 L451.97 1183.80 L455.61 1184.40 L459.26 1184.99 L462.92 1185.57 L466.60 1186.14" fill="none" stroke="#0a88c8" stroke-width="2.0" stroke-linejoin="round"/>
<path d="M100.45 1019.10 L100.56 1019.20 L100.78 1019.41 L101.09 1019.68 L101.46 1020.02 L101.89 1020.42 L102.38 1020.86 L102.93 1021.35 L103.51 1021.89 L104.15 1022.46 L104.83 1023.07 L105.55 1023.71 L106.31 1024.39 L107.11 1025.10 L107.95 1025.84 L108.83 1026.61 L109.74 1027.40 L110.69 1028.23 L111.67 1029.07 L112.68 1029.94 L113.73 1030.84 L114.80 1031.75 L115.91 1032.69 L117.05 1033.65 L118.22 1034.62 L119.42 1035.62 L120.65 1036.63 L121.91 1037.66 L123.19 1038.70 L124.51 1039.76 L125.85 1040.83 L127.22 1041.92 L128.61 1043.02 L130.03 1044.13 L131.48 1045.26 L132.95 1046.39 L134.45 1047.53 L135.98 1048.69 L137.52 1049.85 L139.10 1051.02 L140.70 1052.20 L142.32 1053.39 L143.96 1054.58 L145.63 1055.78 L147.33 1056.98 L149.04 1058.19 L150.78 1059.41 L152.54 1060.63 L154.33 1061.85 L156.13 1063.08 L157.96 1064.30 L159.82 1065.54 L161.69 1066.77 L163.58 1068.00 L165.50 1069.24 L167.44 1070.47 L169.40 1071.71 L171.38 1072.95 L173.38 1074.18 L175.40 1075.41 L177.45 1076.65 L179.51 1077.88 L181.59 1079.11 L183.70 1080.34 L185.82 1081.56 L187.97 1082.78 L190.13 1084.00 L192.31 1085.22 L194.52 1086.43 L196.74 1087.64 L198.98 1088.84 L201.24 1090.04 L203.53 1091.23 L205.83 1092.42 L208.14 1093.60 L210.48 1094.78 L212.84 1095.95 L215.21 1097.12 L217.61 1098.28 L220.02 1099.43 L222.45 1100.58 L224.90 1101.72 L227.37 1102.85 L229.85 1103.98 L232.36 1105.10 L234.88 1106.21 L237.42 1107.31 L239.98 1108.41 L242.55 1109.49 L245.14 1110.57 L247.75 1111.65 L250.38 1112.71 L253.03 1113.76 L255.69 1114.81 L258.37 1115.85 L261.06 1116.88 L263.78 1117.90 L266.51 1118.91 L269.26 1119.91 L272.02 1120.91 L274.80 1121.89 L277.60 1122.87 L280.41 1123.83 L283.24 1124.79 L286.09 1125.74 L288.96 1126.68 L291.84 1127.60 L294.73 1128.52 L297.65 1129.43 L300.58 1130.33 L303.52 1131.23 L306.48 1132.11 L309.46 1132.98 L312.46 1133.84 L315.47 1134.69 L318.49 1135.54 L321.53 1136.37 L324.59 1137.19 L327.66 1138.01 L330.75 1138.81 L333.86 1139.61 L336.98 1140.39 L340.11 1141.17 L343.26 1141.93 L346.43 1142.69 L349.61 1143.44 L352.81 1144.17 L356.02 1144.90 L359.25 1145.62 L362.49 1146.33 L365.75 1147.03 L369.02 1147.72 L372.31 1148.40 L375.61 1149.08 L378.93 1149.74 L382.26 1150.39 L385.61 1151.04 L388.97 1151.67 L392.35 1152.30 L395.74 1152.92 L399.15 1153.53 L402.57 1154.13 L406.00 1154.72 L409.45 1155.31 L412.92 1155.88 L416.40 1156.45 L419.89 1157.00 L423.40 1157.55 L426.92 1158.09 L430.46 1158.63 L434.01 1159.15 L437.57 1159.67 L441.15 1160.18 L444.74 1160.68 L448.35 1161.17 L451.97 1161.66 L455.61 1162.13 L459.26 1162.60 L462.92 1163.06 L466.60 1163.52" fill="none" stroke="#b9cf1f" stroke-width="2.1" stroke-linecap="round" stroke-dasharray="0.9 6.0"/>
<path d="M100.45 1019.10 L100.56 1019.19 L100.78 1019.36 L101.09 1019.60 L101.46 1019.87 L101.89 1020.18 L102.38 1020.52 L102.93 1020.88 L103.51 1021.26 L104.15 1021.66 L104.83 1022.08 L105.55 1022.51 L106.31 1022.97 L107.11 1023.43 L107.95 1023.92 L108.83 1024.42 L109.74 1024.94 L110.69 1025.48 L111.67 1026.03 L112.68 1026.60 L113.73 1027.18 L114.80 1027.78 L115.91 1028.40 L117.05 1029.03 L118.22 1029.67 L119.42 1030.33 L120.65 1031.00 L121.91 1031.69 L123.19 1032.39 L124.51 1033.10 L125.85 1033.83 L127.22 1034.56 L128.61 1035.31 L130.03 1036.07 L131.48 1036.84 L132.95 1037.62 L134.45 1038.41 L135.98 1039.22 L137.52 1040.03 L139.10 1040.85 L140.70 1041.68 L142.32 1042.52 L143.96 1043.37 L145.63 1044.22 L147.33 1045.09 L149.04 1045.96 L150.78 1046.84 L152.54 1047.73 L154.33 1048.63 L156.13 1049.53 L157.96 1050.44 L159.82 1051.35 L161.69 1052.28 L163.58 1053.21 L165.50 1054.14 L167.44 1055.08 L169.40 1056.03 L171.38 1056.98 L173.38 1057.93 L175.40 1058.89 L177.45 1059.86 L179.51 1060.83 L181.59 1061.80 L183.70 1062.78 L185.82 1063.76 L187.97 1064.75 L190.13 1065.74 L192.31 1066.73 L194.52 1067.73 L196.74 1068.73 L198.98 1069.73 L201.24 1070.73 L203.53 1071.74 L205.83 1072.75 L208.14 1073.76 L210.48 1074.78 L212.84 1075.79 L215.21 1076.81 L217.61 1077.83 L220.02 1078.85 L222.45 1079.87 L224.90 1080.89 L227.37 1081.92 L229.85 1082.94 L232.36 1083.97 L234.88 1084.99 L237.42 1086.02 L239.98 1087.05 L242.55 1088.07 L245.14 1089.10 L247.75 1090.13 L250.38 1091.16 L253.03 1092.18 L255.69 1093.21 L258.37 1094.23 L261.06 1095.26 L263.78 1096.28 L266.51 1097.31 L269.26 1098.33 L272.02 1099.35 L274.80 1100.37 L277.60 1101.39 L280.41 1102.41 L283.24 1103.42 L286.09 1104.44 L288.96 1105.45 L291.84 1106.46 L294.73 1107.47 L297.65 1108.48 L300.58 1109.48 L303.52 1110.48 L306.48 1111.48 L309.46 1112.48 L312.46 1113.48 L315.47 1114.47 L318.49 1115.46 L321.53 1116.45 L324.59 1117.43 L327.66 1118.42 L330.75 1119.39 L333.86 1120.37 L336.98 1121.34 L340.11 1122.31 L343.26 1123.28 L346.43 1124.24 L349.61 1125.20 L352.81 1126.16 L356.02 1127.11 L359.25 1128.06 L362.49 1129.01 L365.75 1129.95 L369.02 1130.89 L372.31 1131.83 L375.61 1132.76 L378.93 1133.69 L382.26 1134.61 L385.61 1135.53 L388.97 1136.45 L392.35 1137.36 L395.74 1138.27 L399.15 1139.17 L402.57 1140.07 L406.00 1140.96 L409.45 1141.86 L412.92 1142.74 L416.40 1143.62 L419.89 1144.50 L423.40 1145.38 L426.92 1146.24 L430.46 1147.11 L434.01 1147.97 L437.57 1148.82 L441.15 1149.68 L444.74 1150.52 L448.35 1151.36 L451.97 1152.20 L455.61 1153.03 L459.26 1153.86 L462.92 1154.68 L466.60 1155.50" fill="none" stroke="#1a9ed3" stroke-width="2.1" stroke-linecap="round" stroke-dasharray="0.9 6.0"/>
<rect x="969.6" y="866" width="30" height="14" fill="#fff"/>
<path d="M532.5 962.30H576.5" stroke="#0a88c8" stroke-width="4.4" stroke-linecap="round"/>
<text x="589.4" y="967.50" class="lg">AviatorXpro</text>
<path d="M532.5 1003.90H576.5" stroke="#92c31e" stroke-width="4.4" stroke-linecap="round"/>
<text x="589.4" y="1008.80" class="lg">Proline</text>
<path d="M532.5 1043.20H576.5" stroke="#2c6e2c" stroke-width="4.4" stroke-linecap="round"/>
<text x="589.4" y="1049.80" class="lg">Elatus Era</text>
<path d="M532.5 1084.10H576.5" stroke="#93a9b5" stroke-width="4.4" stroke-linecap="round"/>
<text x="589.4" y="1090.90" class="lg">AscraXpro</text>
<path d="M532.5 1126.90H576.5" stroke="#5a4133" stroke-width="4.4" stroke-linecap="round"/>
<text x="589.4" y="1131.60" class="lg">Ignite</text>
<path d="M532.5 1166.50H576.5" stroke="#f7e62e" stroke-width="4.4" stroke-linecap="round"/>
<text x="589.4" y="1173.50" class="lg">Vertisan+Ignite</text>
<path d="M532.5 1208.30H576.5" stroke="#ee8c12" stroke-width="4.4" stroke-linecap="round"/>
<text x="589.4" y="1215.40" class="lg">Priaxor</text>
<path d="M718.3 962.10H762" stroke="#1a9ed3" stroke-width="4.6" stroke-linecap="round" stroke-dasharray="0.6 10.05"/>
<text x="775" y="967.40" class="lg">Vertisan</text>
<path d="M718.3 1004.20H762" stroke="#b9cf1f" stroke-width="4.6" stroke-linecap="round" stroke-dasharray="0.6 10.05"/>
<text x="775" y="1008.80" class="lg">Imtrex</text>
<path d="M718.3 1046.25H762" stroke="#1e3a42" stroke-width="4.6" stroke-linecap="round" stroke-dasharray="0.6 10.05"/>
<text x="775" y="1050.00" class="lg">Librax</text>
<path d="M718.3 1086.75H762" stroke="#d41e1e" stroke-width="4.6" stroke-linecap="round" stroke-dasharray="0.6 10.05"/>
<text x="775" y="1090.80" class="lg">Folicur</text>
<path d="M718.3 1129.90H762" stroke="#7d705c" stroke-width="4.6" stroke-linecap="round" stroke-dasharray="0.6 10.05"/>
<text x="775" y="1132.00" class="lg">Comet</text>
<path d="M719 1170.10H763" stroke="#e32112" stroke-width="4.4" stroke-linecap="round"/>
<text x="775" y="1172.80" class="lg">Caramba 90</text>
<path d="M719 1209.90H763" stroke="#923d0a" stroke-width="4.4" stroke-linecap="round"/>
<text x="775" y="1214.20" class="lg">Keystone</text>
<path d="M529 1251.8H948.5A22 22 0 0 1 970.5 1273.8V1367.8H551A22 22 0 0 1 529 1345.8Z" fill="#e07a3a"/>
<text x="548.4" y="1287.00" class="bx" textLength="394.2" lengthAdjust="spacingAndGlyphs">Use Imtrex and Vertisan only in mixture with at least</text>
<text x="548.4" y="1307.50" class="bx" textLength="368.0" lengthAdjust="spacingAndGlyphs">one fungicide with an alternative mode of action</text>
<text x="548.4" y="1328.00" class="bx" textLength="358.9" lengthAdjust="spacingAndGlyphs">that has comparable efficacy against the target</text>
<text x="549.5" y="1348.50" class="bx" textLength="96.3" lengthAdjust="spacingAndGlyphs">pathogen(s).</text>
<path d="M48 1391.5H969" stroke="#4c9fd0" stroke-width="1.2"/>
</svg>
</body></html>
